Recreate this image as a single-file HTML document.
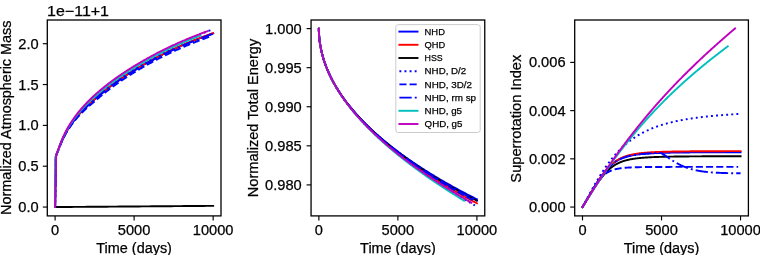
<!DOCTYPE html>
<html><head><meta charset="utf-8"><style>html,body{margin:0;padding:0;background:#fff;}svg{display:block;font-family:"Liberation Sans",sans-serif;} .txt{filter:grayscale(1);}</style></head><body>
<svg width="760" height="255" viewBox="0 0 760 255">
<rect width="760" height="255" fill="#ffffff"/>
<defs>
<clipPath id="c0"><rect x="47.30" y="20.00" width="173.70" height="195.90"/></clipPath>
<clipPath id="c1"><rect x="311.06" y="20.00" width="173.70" height="195.90"/></clipPath>
<clipPath id="c2"><rect x="574.70" y="20.00" width="173.70" height="195.90"/></clipPath>
</defs>
<g clip-path="url(#c0)">
<path d="M55.10,207.06 L55.81,156.44 L56.34,154.91 L56.86,153.59 L57.39,152.27 L57.92,150.93 L58.44,149.56 L58.97,148.18 L59.49,146.81 L60.02,145.47 L60.55,144.15 L61.07,142.87 L61.60,141.62 L62.13,140.41 L62.65,139.24 L63.18,138.11 L63.70,137.01 L64.23,135.94 L64.76,134.91 L65.28,133.90 L65.81,132.93 L66.34,131.98 L66.86,131.06 L67.39,130.16 L67.91,129.28 L68.44,128.43 L68.97,127.59 L69.49,126.77 L70.02,125.97 L70.55,125.19 L71.07,124.42 L71.60,123.67 L72.12,122.94 L72.65,122.21 L73.18,121.50 L73.70,120.80 L74.23,120.12 L74.76,119.44 L75.28,118.78 L75.81,118.13 L76.33,117.48 L76.86,116.85 L77.39,116.22 L77.91,115.61 L78.44,115.00 L78.96,114.40 L79.49,113.81 L80.02,113.23 L80.54,112.65 L81.07,112.09 L81.60,111.52 L82.12,110.97 L82.65,110.42 L83.17,109.88 L83.70,109.35 L84.23,108.82 L84.75,108.29 L85.28,107.77 L85.81,107.26 L86.33,106.76 L86.86,106.25 L87.38,105.76 L87.91,105.27 L88.44,104.78 L88.96,104.30 L89.49,103.82 L90.02,103.35 L90.54,102.88 L91.07,102.41 L91.59,101.95 L92.12,101.50 L92.65,101.05 L93.17,100.60 L93.70,100.15 L94.23,99.71 L94.75,99.26 L95.28,98.79 L95.80,98.31 L96.33,97.84 L96.86,97.37 L97.38,96.91 L97.91,96.45 L98.43,95.99 L98.96,95.54 L99.49,95.08 L100.01,94.64 L100.54,94.19 L101.07,93.75 L101.59,93.31 L102.12,92.87 L102.64,92.44 L103.17,92.01 L103.70,91.58 L104.22,91.16 L104.75,90.73 L105.28,90.31 L105.80,89.90 L106.33,89.48 L106.85,89.07 L107.38,88.66 L107.91,88.25 L108.43,87.85 L108.96,87.44 L109.49,87.04 L110.01,86.64 L110.54,86.25 L111.06,85.85 L111.59,85.46 L112.12,85.07 L112.64,84.68 L113.17,84.30 L113.70,83.91 L114.22,83.53 L114.75,83.15 L115.27,82.77 L115.80,82.40 L116.33,82.02 L116.85,81.65 L117.38,81.28 L117.90,80.91 L118.43,80.55 L118.96,80.18 L119.48,79.82 L120.01,79.46 L120.54,79.10 L121.06,78.74 L121.59,78.38 L122.11,78.03 L122.64,77.67 L123.17,77.32 L123.69,76.97 L124.22,76.62 L124.75,76.28 L125.27,75.93 L125.80,75.59 L126.32,75.24 L126.85,74.90 L127.38,74.56 L127.90,74.23 L128.43,73.89 L128.96,73.55 L129.48,73.22 L130.01,72.89 L130.53,72.56 L131.06,72.23 L131.59,71.90 L132.11,71.57 L132.64,71.24 L133.17,70.92 L133.69,70.59 L134.22,70.27 L134.74,69.95 L135.27,69.63 L135.80,69.31 L136.32,69.00 L136.85,68.68 L137.37,68.36 L137.90,68.05 L138.43,67.74 L138.95,67.43 L139.48,67.12 L140.01,66.81 L140.53,66.50 L141.06,66.19 L141.58,65.89 L142.11,65.58 L142.64,65.28 L143.16,64.97 L143.69,64.67 L144.22,64.37 L144.74,64.07 L145.27,63.77 L145.79,63.48 L146.32,63.18 L146.85,62.88 L147.37,62.59 L147.90,62.29 L148.43,62.00 L148.95,61.71 L149.48,61.42 L150.00,61.13 L150.53,60.84 L151.06,60.55 L151.58,60.27 L152.11,59.98 L152.64,59.70 L153.16,59.41 L153.69,59.13 L154.21,58.85 L154.74,58.57 L155.27,58.29 L155.79,58.02 L156.32,57.74 L156.84,57.47 L157.37,57.19 L157.90,56.92 L158.42,56.65 L158.95,56.38 L159.48,56.11 L160.00,55.84 L160.53,55.57 L161.05,55.30 L161.58,55.04 L162.11,54.77 L162.63,54.51 L163.16,54.25 L163.69,53.99 L164.21,53.73 L164.74,53.47 L165.26,53.21 L165.79,52.95 L166.32,52.70 L166.84,52.44 L167.37,52.19 L167.90,51.93 L168.42,51.68 L168.95,51.43 L169.47,51.18 L170.00,50.93 L170.53,50.68 L171.05,50.43 L171.58,50.19 L172.11,49.94 L172.63,49.70 L173.16,49.45 L173.68,49.21 L174.21,48.97 L174.74,48.73 L175.26,48.49 L175.79,48.25 L176.31,48.01 L176.84,47.77 L177.37,47.54 L177.89,47.30 L178.42,47.07 L178.95,46.83 L179.47,46.60 L180.00,46.37 L180.52,46.13 L181.05,45.90 L181.58,45.68 L182.10,45.45 L182.63,45.22 L183.16,44.99 L183.68,44.77 L184.21,44.54 L184.73,44.32 L185.26,44.09 L185.79,43.87 L186.31,43.65 L186.84,43.43 L187.37,43.21 L187.89,42.99 L188.42,42.77 L188.94,42.55 L189.47,42.33 L190.00,42.12 L190.52,41.90 L191.05,41.69 L191.58,41.47 L192.10,41.26 L192.63,41.05 L193.15,40.84 L193.68,40.63 L194.21,40.42 L194.73,40.21 L195.26,40.00 L195.78,39.79 L196.31,39.58 L196.84,39.38 L197.36,39.17 L197.89,38.97 L198.42,38.76 L198.94,38.56 L199.47,38.36 L199.99,38.16 L200.52,37.96 L201.05,37.76 L201.57,37.56 L202.10,37.36 L202.63,37.16 L203.15,36.96 L203.68,36.77 L204.20,36.57 L204.73,36.38 L205.26,36.18 L205.78,35.99 L206.31,35.80 L206.84,35.60 L207.36,35.41 L207.89,35.22 L208.41,35.03 L208.94,34.84 L209.47,34.65 L209.99,34.47 L210.52,34.28 L211.05,34.09 L211.57,33.91 L212.10,33.72 L212.62,33.54 L213.15,33.35" fill="none" stroke="#0000ff" stroke-width="1.92" stroke-linecap="square" stroke-linejoin="round"/>
<path d="M55.10,207.06 L55.89,156.16 L56.42,154.69 L56.94,153.38 L57.47,152.06 L57.99,150.70 L58.52,149.33 L59.05,147.95 L59.57,146.58 L60.10,145.24 L60.62,143.92 L61.15,142.64 L61.68,141.40 L62.20,140.19 L62.73,139.02 L63.25,137.89 L63.78,136.79 L64.31,135.73 L64.83,134.70 L65.36,133.70 L65.88,132.72 L66.41,131.78 L66.94,130.85 L67.46,129.96 L67.99,129.08 L68.51,128.23 L69.04,127.39 L69.57,126.57 L70.09,125.77 L70.62,124.99 L71.14,124.22 L71.67,123.47 L72.19,122.74 L72.72,122.01 L73.25,121.30 L73.77,120.60 L74.30,119.91 L74.82,119.24 L75.35,118.57 L75.88,117.92 L76.40,117.28 L76.93,116.64 L77.45,116.02 L77.98,115.40 L78.51,114.79 L79.03,114.19 L79.56,113.60 L80.08,113.02 L80.61,112.44 L81.14,111.87 L81.66,111.31 L82.19,110.75 L82.71,110.20 L83.24,109.66 L83.77,109.12 L84.29,108.59 L84.82,108.07 L85.34,107.55 L85.87,107.04 L86.40,106.53 L86.92,106.03 L87.45,105.53 L87.97,105.04 L88.50,104.55 L89.03,104.06 L89.55,103.58 L90.08,103.11 L90.60,102.64 L91.13,102.17 L91.66,101.71 L92.18,101.26 L92.71,100.80 L93.23,100.35 L93.76,99.91 L94.28,99.46 L94.81,99.01 L95.34,98.53 L95.86,98.06 L96.39,97.59 L96.91,97.12 L97.44,96.66 L97.97,96.20 L98.49,95.74 L99.02,95.29 L99.54,94.84 L100.07,94.39 L100.60,93.94 L101.12,93.50 L101.65,93.06 L102.17,92.63 L102.70,92.20 L103.23,91.77 L103.75,91.34 L104.28,90.91 L104.80,90.49 L105.33,90.07 L105.86,89.65 L106.38,89.24 L106.91,88.83 L107.43,88.42 L107.96,88.01 L108.49,87.61 L109.01,87.20 L109.54,86.80 L110.06,86.40 L110.59,86.01 L111.12,85.62 L111.64,85.22 L112.17,84.83 L112.69,84.45 L113.22,84.06 L113.75,83.68 L114.27,83.30 L114.80,82.92 L115.32,82.54 L115.85,82.16 L116.37,81.79 L116.90,81.42 L117.43,81.05 L117.95,80.68 L118.48,80.31 L119.00,79.95 L119.53,79.59 L120.06,79.22 L120.58,78.87 L121.11,78.51 L121.63,78.15 L122.16,77.80 L122.69,77.44 L123.21,77.09 L123.74,76.74 L124.26,76.39 L124.79,76.05 L125.32,75.70 L125.84,75.36 L126.37,75.02 L126.89,74.68 L127.42,74.34 L127.95,74.00 L128.47,73.66 L129.00,73.33 L129.52,72.99 L130.05,72.66 L130.58,72.33 L131.10,72.00 L131.63,71.67 L132.15,71.34 L132.68,71.02 L133.21,70.69 L133.73,70.37 L134.26,70.05 L134.78,69.73 L135.31,69.41 L135.84,69.09 L136.36,68.77 L136.89,68.46 L137.41,68.14 L137.94,67.83 L138.46,67.52 L138.99,67.20 L139.52,66.89 L140.04,66.59 L140.57,66.28 L141.09,65.97 L141.62,65.66 L142.15,65.36 L142.67,65.06 L143.20,64.75 L143.72,64.45 L144.25,64.15 L144.78,63.85 L145.30,63.55 L145.83,63.26 L146.35,62.96 L146.88,62.66 L147.41,62.37 L147.93,62.08 L148.46,61.78 L148.98,61.49 L149.51,61.20 L150.04,60.91 L150.56,60.62 L151.09,60.34 L151.61,60.05 L152.14,59.76 L152.67,59.48 L153.19,59.20 L153.72,58.92 L154.24,58.64 L154.77,58.36 L155.30,58.08 L155.82,57.80 L156.35,57.53 L156.87,57.25 L157.40,56.98 L157.93,56.70 L158.45,56.43 L158.98,56.16 L159.50,55.89 L160.03,55.62 L160.55,55.36 L161.08,55.09 L161.61,54.83 L162.13,54.56 L162.66,54.30 L163.18,54.04 L163.71,53.77 L164.24,53.51 L164.76,53.26 L165.29,53.00 L165.81,52.74 L166.34,52.48 L166.87,52.23 L167.39,51.98 L167.92,51.72 L168.44,51.47 L168.97,51.22 L169.50,50.97 L170.02,50.72 L170.55,50.47 L171.07,50.22 L171.60,49.98 L172.13,49.73 L172.65,49.49 L173.18,49.24 L173.70,49.00 L174.23,48.76 L174.76,48.52 L175.28,48.28 L175.81,48.04 L176.33,47.80 L176.86,47.56 L177.39,47.33 L177.91,47.09 L178.44,46.86 L178.96,46.62 L179.49,46.39 L180.02,46.16 L180.54,45.93 L181.07,45.70 L181.59,45.47 L182.12,45.24 L182.64,45.01 L183.17,44.79 L183.70,44.56 L184.22,44.33 L184.75,44.11 L185.27,43.89 L185.80,43.66 L186.33,43.44 L186.85,43.22 L187.38,43.00 L187.90,42.78 L188.43,42.56 L188.96,42.35 L189.48,42.13 L190.01,41.91 L190.53,41.70 L191.06,41.48 L191.59,41.27 L192.11,41.06 L192.64,40.84 L193.16,40.63 L193.69,40.42 L194.22,40.21 L194.74,40.00 L195.27,39.79 L195.79,39.59 L196.32,39.38 L196.85,39.17 L197.37,38.97 L197.90,38.76 L198.42,38.56 L198.95,38.36 L199.48,38.16 L200.00,37.95 L200.53,37.75 L201.05,37.55 L201.58,37.35 L202.11,37.16 L202.63,36.96 L203.16,36.76 L203.68,36.57 L204.21,36.37 L204.73,36.17 L205.26,35.98 L205.79,35.79 L206.31,35.59 L206.84,35.40 L207.36,35.21 L207.89,35.02 L208.42,34.83 L208.94,34.64 L209.47,34.45 L209.99,34.27 L210.52,34.08 L211.05,33.89 L211.57,33.71 L212.10,33.52 L212.62,33.34 L213.15,33.15" fill="none" stroke="#ff0000" stroke-width="1.92" stroke-linecap="square" stroke-linejoin="round"/>
<path d="M55.10,207.06 L58.33,207.04 L61.55,207.01 L64.78,206.99 L68.00,206.96 L71.23,206.94 L74.45,206.91 L77.68,206.89 L80.90,206.86 L84.13,206.84 L87.36,206.82 L90.58,206.79 L93.81,206.77 L97.03,206.74 L100.26,206.72 L103.48,206.69 L106.71,206.67 L109.93,206.64 L113.16,206.62 L116.38,206.59 L119.61,206.57 L122.84,206.55 L126.06,206.52 L129.29,206.50 L132.51,206.47 L135.74,206.45 L138.96,206.42 L142.19,206.40 L145.41,206.37 L148.64,206.35 L151.87,206.33 L155.09,206.30 L158.32,206.28 L161.54,206.25 L164.77,206.23 L167.99,206.20 L171.22,206.18 L174.44,206.15 L177.67,206.13 L180.89,206.10 L184.12,206.08 L187.35,206.06 L190.57,206.03 L193.80,206.01 L197.02,205.98 L200.25,205.96 L203.47,205.93 L206.70,205.91 L209.92,205.88 L213.15,205.86" fill="none" stroke="#000000" stroke-width="1.92" stroke-linecap="square" stroke-linejoin="round"/>
<path d="M55.10,207.06 L55.73,156.69 L56.25,155.06 L56.77,153.72 L57.29,152.41 L57.81,151.06 L58.33,149.69 L58.85,148.31 L59.37,146.94 L59.89,145.58 L60.41,144.25 L60.93,142.96 L61.45,141.70 L61.97,140.48 L62.49,139.29 L63.01,138.14 L63.53,137.03 L64.05,135.95 L64.57,134.90 L65.09,133.88 L65.60,132.89 L66.12,131.93 L66.64,130.99 L67.16,130.07 L67.68,129.18 L68.20,128.31 L68.72,127.46 L69.24,126.63 L69.76,125.82 L70.28,125.02 L70.80,124.24 L71.32,123.48 L71.84,122.73 L72.36,121.99 L72.88,121.27 L73.40,120.56 L73.92,119.86 L74.44,119.17 L74.96,118.49 L75.48,117.83 L76.00,117.17 L76.52,116.53 L77.04,115.89 L77.56,115.26 L78.08,114.64 L78.60,114.03 L79.11,113.43 L79.63,112.83 L80.15,112.25 L80.67,111.67 L81.19,111.09 L81.71,110.53 L82.23,109.97 L82.75,109.41 L83.27,108.87 L83.79,108.33 L84.31,107.79 L84.83,107.26 L85.35,106.74 L85.87,106.22 L86.39,105.71 L86.91,105.20 L87.43,104.69 L87.95,104.20 L88.47,103.70 L88.99,103.21 L89.51,102.73 L90.03,102.25 L90.55,101.77 L91.07,101.30 L91.59,100.84 L92.10,100.37 L92.62,99.91 L93.14,99.46 L93.66,99.01 L94.18,98.56 L94.70,98.11 L95.22,97.64 L95.74,97.17 L96.26,96.70 L96.78,96.24 L97.30,95.78 L97.82,95.32 L98.34,94.87 L98.86,94.42 L99.38,93.98 L99.90,93.53 L100.42,93.09 L100.94,92.66 L101.46,92.22 L101.98,91.79 L102.50,91.36 L103.02,90.94 L103.54,90.51 L104.06,90.09 L104.58,89.67 L105.10,89.26 L105.61,88.85 L106.13,88.43 L106.65,88.03 L107.17,87.62 L107.69,87.22 L108.21,86.82 L108.73,86.42 L109.25,86.02 L109.77,85.63 L110.29,85.23 L110.81,84.84 L111.33,84.45 L111.85,84.07 L112.37,83.68 L112.89,83.30 L113.41,82.92 L113.93,82.54 L114.45,82.17 L114.97,81.79 L115.49,81.42 L116.01,81.05 L116.53,80.68 L117.05,80.32 L117.57,79.95 L118.09,79.59 L118.60,79.23 L119.12,78.87 L119.64,78.51 L120.16,78.15 L120.68,77.80 L121.20,77.44 L121.72,77.09 L122.24,76.74 L122.76,76.39 L123.28,76.05 L123.80,75.70 L124.32,75.36 L124.84,75.01 L125.36,74.67 L125.88,74.33 L126.40,74.00 L126.92,73.66 L127.44,73.32 L127.96,72.99 L128.48,72.66 L129.00,72.33 L129.52,72.00 L130.04,71.67 L130.56,71.34 L131.08,71.02 L131.60,70.69 L132.11,70.37 L132.63,70.05 L133.15,69.73 L133.67,69.41 L134.19,69.09 L134.71,68.77 L135.23,68.45 L135.75,68.14 L136.27,67.83 L136.79,67.51 L137.31,67.20 L137.83,66.89 L138.35,66.58 L138.87,66.28 L139.39,65.97 L139.91,65.66 L140.43,65.36 L140.95,65.06 L141.47,64.75 L141.99,64.45 L142.51,64.15 L143.03,63.85 L143.55,63.55 L144.07,63.26 L144.59,62.96 L145.10,62.67 L145.62,62.37 L146.14,62.08 L146.66,61.79 L147.18,61.49 L147.70,61.20 L148.22,60.91 L148.74,60.63 L149.26,60.34 L149.78,60.05 L150.30,59.77 L150.82,59.48 L151.34,59.20 L151.86,58.92 L152.38,58.63 L152.90,58.35 L153.42,58.08 L153.94,57.80 L154.46,57.52 L154.98,57.25 L155.50,56.97 L156.02,56.70 L156.54,56.43 L157.06,56.16 L157.58,55.88 L158.10,55.60 L158.61,55.30 L159.13,55.01 L159.65,54.71 L160.17,54.42 L160.69,54.13 L161.21,53.83 L161.73,53.54 L162.25,53.25 L162.77,52.96 L163.29,52.68 L163.81,52.39 L164.33,52.10 L164.85,51.82 L165.37,51.53 L165.89,51.25 L166.41,50.97 L166.93,50.69 L167.45,50.41 L167.97,50.13 L168.49,49.85 L169.01,49.57 L169.53,49.30 L170.05,49.02 L170.57,48.75 L171.09,48.47 L171.61,48.20 L172.12,47.93 L172.64,47.66 L173.16,47.39 L173.68,47.12 L174.20,46.85 L174.72,46.58 L175.24,46.32 L175.76,46.05 L176.28,45.79 L176.80,45.52 L177.32,45.26 L177.84,45.00 L178.36,44.74 L178.88,44.48 L179.40,44.22 L179.92,43.96 L180.44,43.70 L180.96,43.44 L181.48,43.19 L182.00,42.93 L182.52,42.68 L183.04,42.42 L183.56,42.17 L184.08,41.92 L184.60,41.67 L185.11,41.42 L185.63,41.17 L186.15,40.92 L186.67,40.67 L187.19,40.42 L187.71,40.18 L188.23,39.93 L188.75,39.69 L189.27,39.44 L189.79,39.20 L190.31,38.96 L190.83,38.72 L191.35,38.48 L191.87,38.24 L192.39,38.00 L192.91,37.76 L193.43,37.52 L193.95,37.28 L194.47,37.05 L194.99,36.81 L195.51,36.58 L196.03,36.34 L196.55,36.11 L197.07,35.88 L197.59,35.65 L198.11,35.42 L198.62,35.19 L199.14,34.96 L199.66,34.73 L200.18,34.50 L200.70,34.27 L201.22,34.05 L201.74,33.82 L202.26,33.59 L202.78,33.37 L203.30,33.15 L203.82,32.92 L204.34,32.70 L204.86,32.48 L205.38,32.26 L205.90,32.04 L206.42,31.82 L206.94,31.60 L207.46,31.38 L207.98,31.16 L208.50,30.95 L209.02,30.73 L209.54,30.52 L210.06,30.30 L210.58,30.09 L211.10,29.87" fill="none" stroke="#0000ff" stroke-width="1.92" stroke-dasharray="1.92,3.17" stroke-linecap="butt" stroke-linejoin="round"/>
<path d="M55.10,207.06 L55.89,156.26 L56.41,154.86 L56.93,153.61 L57.44,152.36 L57.96,151.07 L58.48,149.75 L59.00,148.43 L59.52,147.12 L60.03,145.83 L60.55,144.57 L61.07,143.34 L61.59,142.14 L62.11,140.98 L62.62,139.86 L63.14,138.77 L63.66,137.71 L64.18,136.69 L64.70,135.70 L65.21,134.74 L65.73,133.80 L66.25,132.89 L66.77,132.01 L67.29,131.15 L67.80,130.31 L68.32,129.49 L68.84,128.69 L69.36,127.91 L69.88,127.14 L70.39,126.40 L70.91,125.66 L71.43,124.95 L71.95,124.24 L72.47,123.55 L72.99,122.87 L73.50,122.21 L74.02,121.55 L74.54,120.91 L75.06,120.28 L75.58,119.65 L76.09,119.04 L76.61,118.44 L77.13,117.84 L77.65,117.26 L78.17,116.68 L78.68,116.11 L79.20,115.55 L79.72,115.00 L80.24,114.45 L80.76,113.91 L81.27,113.38 L81.79,112.85 L82.31,112.33 L82.83,111.82 L83.35,111.31 L83.86,110.81 L84.38,110.31 L84.90,109.82 L85.42,109.34 L85.94,108.86 L86.45,108.38 L86.97,107.91 L87.49,107.45 L88.01,106.99 L88.53,106.53 L89.04,106.08 L89.56,105.64 L90.08,105.19 L90.60,104.76 L91.12,104.32 L91.63,103.89 L92.15,103.46 L92.67,103.04 L93.19,102.62 L93.71,102.21 L94.22,101.80 L94.74,101.37 L95.26,100.90 L95.78,100.43 L96.30,99.97 L96.81,99.51 L97.33,99.05 L97.85,98.60 L98.37,98.15 L98.89,97.70 L99.40,97.26 L99.92,96.81 L100.44,96.38 L100.96,95.94 L101.48,95.51 L101.99,95.08 L102.51,94.65 L103.03,94.22 L103.55,93.80 L104.07,93.38 L104.58,92.97 L105.10,92.55 L105.62,92.14 L106.14,91.73 L106.66,91.32 L107.17,90.92 L107.69,90.52 L108.21,90.12 L108.73,89.72 L109.25,89.32 L109.76,88.93 L110.28,88.54 L110.80,88.15 L111.32,87.76 L111.84,87.38 L112.35,87.00 L112.87,86.61 L113.39,86.24 L113.91,85.86 L114.43,85.48 L114.94,85.11 L115.46,84.74 L115.98,84.37 L116.50,84.00 L117.02,83.64 L117.54,83.27 L118.05,82.91 L118.57,82.55 L119.09,82.19 L119.61,81.83 L120.13,81.48 L120.64,81.12 L121.16,80.77 L121.68,80.42 L122.20,80.07 L122.72,79.72 L123.23,79.38 L123.75,79.03 L124.27,78.69 L124.79,78.35 L125.31,78.01 L125.82,77.67 L126.34,77.33 L126.86,77.00 L127.38,76.66 L127.90,76.33 L128.41,76.00 L128.93,75.67 L129.45,75.34 L129.97,75.01 L130.49,74.69 L131.00,74.36 L131.52,74.04 L132.04,73.71 L132.56,73.39 L133.08,73.07 L133.59,72.75 L134.11,72.44 L134.63,72.12 L135.15,71.81 L135.67,71.49 L136.18,71.18 L136.70,70.87 L137.22,70.56 L137.74,70.25 L138.26,69.94 L138.77,69.63 L139.29,69.33 L139.81,69.02 L140.33,68.72 L140.85,68.42 L141.36,68.11 L141.88,67.81 L142.40,67.51 L142.92,67.21 L143.44,66.92 L143.95,66.62 L144.47,66.33 L144.99,66.03 L145.51,65.74 L146.03,65.44 L146.54,65.15 L147.06,64.86 L147.58,64.57 L148.10,64.28 L148.62,64.00 L149.13,63.71 L149.65,63.42 L150.17,63.14 L150.69,62.85 L151.21,62.57 L151.72,62.29 L152.24,62.01 L152.76,61.73 L153.28,61.45 L153.80,61.17 L154.31,60.90 L154.83,60.62 L155.35,60.35 L155.87,60.08 L156.39,59.80 L156.90,59.53 L157.42,59.26 L157.94,59.00 L158.46,58.73 L158.98,58.46 L159.49,58.20 L160.01,57.93 L160.53,57.67 L161.05,57.41 L161.57,57.15 L162.09,56.88 L162.60,56.63 L163.12,56.37 L163.64,56.11 L164.16,55.85 L164.68,55.60 L165.19,55.34 L165.71,55.09 L166.23,54.84 L166.75,54.59 L167.27,54.34 L167.78,54.09 L168.30,53.84 L168.82,53.59 L169.34,53.34 L169.86,53.10 L170.37,52.85 L170.89,52.61 L171.41,52.37 L171.93,52.12 L172.45,51.88 L172.96,51.64 L173.48,51.40 L174.00,51.16 L174.52,50.93 L175.04,50.69 L175.55,50.45 L176.07,50.22 L176.59,49.99 L177.11,49.75 L177.63,49.52 L178.14,49.29 L178.66,49.06 L179.18,48.83 L179.70,48.60 L180.22,48.37 L180.73,48.14 L181.25,47.92 L181.77,47.69 L182.29,47.47 L182.81,47.24 L183.32,47.02 L183.84,46.80 L184.36,46.58 L184.88,46.35 L185.40,46.13 L185.91,45.92 L186.43,45.70 L186.95,45.48 L187.47,45.26 L187.99,45.05 L188.50,44.83 L189.02,44.62 L189.54,44.40 L190.06,44.19 L190.58,43.98 L191.09,43.77 L191.61,43.56 L192.13,43.35 L192.65,43.14 L193.17,42.93 L193.68,42.72 L194.20,42.52 L194.72,42.31 L195.24,42.11 L195.76,41.90 L196.27,41.70 L196.79,41.50 L197.31,41.29 L197.83,41.09 L198.35,40.89 L198.86,40.69 L199.38,40.49 L199.90,40.29 L200.42,40.10 L200.94,39.90 L201.45,39.70 L201.97,39.51 L202.49,39.31 L203.01,39.12 L203.53,38.92 L204.04,38.73 L204.56,38.54 L205.08,38.35 L205.60,38.16 L206.12,37.97 L206.64,37.78 L207.15,37.59 L207.67,37.40 L208.19,37.21 L208.71,37.03 L209.23,36.84 L209.74,36.65 L210.26,36.47 L210.78,36.29" fill="none" stroke="#0000ff" stroke-width="1.92" stroke-dasharray="7.1,3.07" stroke-linecap="butt" stroke-linejoin="round"/>
<path d="M55.10,207.06 L55.81,156.46 L56.34,154.93 L56.86,153.62 L57.39,152.32 L57.92,150.98 L58.44,149.61 L58.97,148.24 L59.49,146.88 L60.02,145.54 L60.55,144.23 L61.07,142.96 L61.60,141.72 L62.13,140.51 L62.65,139.35 L63.18,138.22 L63.70,137.12 L64.23,136.06 L64.76,135.04 L65.28,134.04 L65.81,133.07 L66.34,132.13 L66.86,131.21 L67.39,130.32 L67.91,129.44 L68.44,128.59 L68.97,127.76 L69.49,126.95 L70.02,126.16 L70.55,125.38 L71.07,124.62 L71.60,123.87 L72.12,123.14 L72.65,122.42 L73.18,121.72 L73.70,121.02 L74.23,120.34 L74.76,119.67 L75.28,119.01 L75.81,118.36 L76.33,117.73 L76.86,117.10 L77.39,116.48 L77.91,115.87 L78.44,115.26 L78.96,114.67 L79.49,114.08 L80.02,113.51 L80.54,112.93 L81.07,112.37 L81.60,111.81 L82.12,111.26 L82.65,110.72 L83.17,110.18 L83.70,109.65 L84.23,109.13 L84.75,108.61 L85.28,108.10 L85.81,107.59 L86.33,107.09 L86.86,106.59 L87.38,106.10 L87.91,105.61 L88.44,105.13 L88.96,104.65 L89.49,104.18 L90.02,103.71 L90.54,103.24 L91.07,102.78 L91.59,102.33 L92.12,101.88 L92.65,101.43 L93.17,100.99 L93.70,100.55 L94.23,100.11 L94.75,99.66 L95.28,99.19 L95.80,98.71 L96.33,98.24 L96.86,97.77 L97.38,97.31 L97.91,96.85 L98.43,96.39 L98.96,95.94 L99.49,95.48 L100.01,95.04 L100.54,94.59 L101.07,94.15 L101.59,93.71 L102.12,93.27 L102.64,92.84 L103.17,92.41 L103.70,91.98 L104.22,91.56 L104.75,91.13 L105.28,90.71 L105.80,90.30 L106.33,89.88 L106.85,89.47 L107.38,89.06 L107.91,88.65 L108.43,88.25 L108.96,87.84 L109.49,87.44 L110.01,87.04 L110.54,86.65 L111.06,86.25 L111.59,85.86 L112.12,85.47 L112.64,85.08 L113.17,84.70 L113.70,84.31 L114.22,83.93 L114.75,83.55 L115.27,83.17 L115.80,82.80 L116.33,82.42 L116.85,82.05 L117.38,81.68 L117.90,81.31 L118.43,80.95 L118.96,80.58 L119.48,80.22 L120.01,79.86 L120.54,79.50 L121.06,79.14 L121.59,78.78 L122.11,78.43 L122.64,78.07 L123.17,77.72 L123.69,77.37 L124.22,77.02 L124.75,76.68 L125.27,76.33 L125.80,75.99 L126.32,75.64 L126.85,75.30 L127.38,74.96 L127.90,74.63 L128.43,74.29 L128.96,73.95 L129.48,73.62 L130.01,73.29 L130.53,72.96 L131.06,72.63 L131.59,72.30 L132.11,71.97 L132.64,71.64 L133.17,71.32 L133.69,70.99 L134.22,70.67 L134.74,70.35 L135.27,70.03 L135.80,69.71 L136.32,69.40 L136.85,69.08 L137.37,68.76 L137.90,68.45 L138.43,68.14 L138.95,67.83 L139.48,67.52 L140.01,67.21 L140.53,66.90 L141.06,66.59 L141.58,66.29 L142.11,65.98 L142.64,65.68 L143.16,65.37 L143.69,65.07 L144.22,64.77 L144.74,64.47 L145.27,64.17 L145.79,63.88 L146.32,63.58 L146.85,63.28 L147.37,62.99 L147.90,62.69 L148.43,62.40 L148.95,62.11 L149.48,61.82 L150.00,61.53 L150.53,61.24 L151.06,60.95 L151.58,60.67 L152.11,60.38 L152.64,60.10 L153.16,59.81 L153.69,59.53 L154.21,59.25 L154.74,58.97 L155.27,58.69 L155.79,58.42 L156.32,58.14 L156.84,57.87 L157.37,57.59 L157.90,57.32 L158.42,57.05 L158.95,56.78 L159.48,56.51 L160.00,56.24 L160.53,55.97 L161.05,55.70 L161.58,55.44 L162.11,55.17 L162.63,54.91 L163.16,54.65 L163.69,54.39 L164.21,54.13 L164.74,53.87 L165.26,53.61 L165.79,53.35 L166.32,53.10 L166.84,52.84 L167.37,52.59 L167.90,52.33 L168.42,52.08 L168.95,51.83 L169.47,51.58 L170.00,51.33 L170.53,51.08 L171.05,50.83 L171.58,50.59 L172.11,50.34 L172.63,50.10 L173.16,49.85 L173.68,49.61 L174.21,49.37 L174.74,49.13 L175.26,48.89 L175.79,48.65 L176.31,48.41 L176.84,48.17 L177.37,47.94 L177.89,47.70 L178.42,47.47 L178.95,47.23 L179.47,47.00 L180.00,46.77 L180.52,46.53 L181.05,46.30 L181.58,46.08 L182.10,45.85 L182.63,45.62 L183.16,45.39 L183.68,45.17 L184.21,44.94 L184.73,44.72 L185.26,44.49 L185.79,44.27 L186.31,44.05 L186.84,43.83 L187.37,43.61 L187.89,43.39 L188.42,43.17 L188.94,42.95 L189.47,42.73 L190.00,42.52 L190.52,42.30 L191.05,42.09 L191.58,41.87 L192.10,41.66 L192.63,41.45 L193.15,41.24 L193.68,41.03 L194.21,40.82 L194.73,40.61 L195.26,40.40 L195.78,40.19 L196.31,39.98 L196.84,39.78 L197.36,39.57 L197.89,39.37 L198.42,39.16 L198.94,38.96 L199.47,38.76 L199.99,38.56 L200.52,38.36 L201.05,38.16 L201.57,37.96 L202.10,37.76 L202.63,37.56 L203.15,37.36 L203.68,37.17 L204.20,36.97 L204.73,36.78 L205.26,36.58 L205.78,36.39 L206.31,36.20 L206.84,36.00 L207.36,35.81 L207.89,35.62 L208.41,35.43 L208.94,35.24 L209.47,35.05 L209.99,34.87 L210.52,34.68 L211.05,34.49 L211.57,34.31 L212.10,34.12 L212.62,33.94 L213.15,33.75" fill="none" stroke="#0000ff" stroke-width="1.92" stroke-dasharray="12.29,3.07,1.92,3.07" stroke-linecap="butt" stroke-linejoin="round"/>
<path d="M55.10,207.06 L55.29,159.56 L55.77,156.48 L56.26,154.96 L56.75,153.69 L57.23,152.44 L57.72,151.16 L58.20,149.86 L58.69,148.55 L59.17,147.25 L59.66,145.96 L60.14,144.68 L60.63,143.44 L61.11,142.22 L61.60,141.04 L62.08,139.89 L62.57,138.77 L63.05,137.68 L63.54,136.63 L64.02,135.60 L64.51,134.60 L64.99,133.63 L65.48,132.68 L65.96,131.76 L66.45,130.86 L66.93,129.98 L67.42,129.12 L67.90,128.28 L68.39,127.46 L68.87,126.66 L69.36,125.87 L69.84,125.10 L70.33,124.34 L70.81,123.60 L71.30,122.87 L71.78,122.16 L72.27,121.45 L72.75,120.76 L73.24,120.08 L73.73,119.40 L74.21,118.74 L74.70,118.09 L75.18,117.45 L75.67,116.82 L76.15,116.19 L76.64,115.58 L77.12,114.97 L77.61,114.37 L78.09,113.78 L78.58,113.19 L79.06,112.62 L79.55,112.05 L80.03,111.48 L80.52,110.93 L81.00,110.37 L81.49,109.83 L81.97,109.29 L82.46,108.76 L82.94,108.23 L83.43,107.71 L83.91,107.19 L84.40,106.68 L84.88,106.17 L85.37,105.67 L85.85,105.17 L86.34,104.68 L86.82,104.19 L87.31,103.71 L87.79,103.23 L88.28,102.75 L88.76,102.28 L89.25,101.81 L89.73,101.35 L90.22,100.89 L90.71,100.43 L91.19,99.98 L91.68,99.53 L92.16,99.09 L92.65,98.65 L93.13,98.21 L93.62,97.77 L94.10,97.34 L94.59,96.91 L95.07,96.47 L95.56,96.03 L96.04,95.60 L96.53,95.16 L97.01,94.73 L97.50,94.31 L97.98,93.88 L98.47,93.46 L98.95,93.04 L99.44,92.63 L99.92,92.21 L100.41,91.80 L100.89,91.39 L101.38,90.99 L101.86,90.59 L102.35,90.18 L102.83,89.79 L103.32,89.39 L103.80,89.00 L104.29,88.60 L104.77,88.21 L105.26,87.83 L105.74,87.44 L106.23,87.06 L106.72,86.68 L107.20,86.30 L107.69,85.92 L108.17,85.55 L108.66,85.18 L109.14,84.80 L109.63,84.44 L110.11,84.07 L110.60,83.70 L111.08,83.34 L111.57,82.98 L112.05,82.62 L112.54,82.26 L113.02,81.91 L113.51,81.55 L113.99,81.20 L114.48,80.85 L114.96,80.50 L115.45,80.15 L115.93,79.80 L116.42,79.46 L116.90,79.12 L117.39,78.78 L117.87,78.44 L118.36,78.10 L118.84,77.76 L119.33,77.43 L119.81,77.09 L120.30,76.76 L120.78,76.43 L121.27,76.10 L121.75,75.77 L122.24,75.44 L122.72,75.12 L123.21,74.79 L123.70,74.47 L124.18,74.15 L124.67,73.83 L125.15,73.51 L125.64,73.19 L126.12,72.88 L126.61,72.56 L127.09,72.25 L127.58,71.94 L128.06,71.62 L128.55,71.31 L129.03,71.00 L129.52,70.70 L130.00,70.39 L130.49,70.08 L130.97,69.78 L131.46,69.48 L131.94,69.17 L132.43,68.87 L132.91,68.57 L133.40,68.28 L133.88,67.98 L134.37,67.68 L134.85,67.38 L135.34,67.09 L135.82,66.80 L136.31,66.50 L136.79,66.21 L137.28,65.92 L137.76,65.63 L138.25,65.34 L138.73,65.06 L139.22,64.77 L139.70,64.48 L140.19,64.20 L140.68,63.92 L141.16,63.63 L141.65,63.35 L142.13,63.07 L142.62,62.79 L143.10,62.51 L143.59,62.23 L144.07,61.95 L144.56,61.68 L145.04,61.40 L145.53,61.13 L146.01,60.85 L146.50,60.58 L146.98,60.31 L147.47,60.04 L147.95,59.77 L148.44,59.50 L148.92,59.23 L149.41,58.96 L149.89,58.69 L150.38,58.42 L150.86,58.16 L151.35,57.89 L151.83,57.63 L152.32,57.37 L152.80,57.11 L153.29,56.85 L153.77,56.59 L154.26,56.33 L154.74,56.07 L155.23,55.81 L155.71,55.56 L156.20,55.30 L156.68,55.05 L157.17,54.80 L157.66,54.54 L158.14,54.29 L158.63,54.04 L159.11,53.79 L159.60,53.54 L160.08,53.30 L160.57,53.05 L161.05,52.81 L161.54,52.56 L162.02,52.32 L162.51,52.07 L162.99,51.83 L163.48,51.59 L163.96,51.35 L164.45,51.11 L164.93,50.87 L165.42,50.63 L165.90,50.40 L166.39,50.16 L166.87,49.93 L167.36,49.69 L167.84,49.46 L168.33,49.23 L168.81,48.99 L169.30,48.76 L169.78,48.53 L170.27,48.30 L170.75,48.07 L171.24,47.85 L171.72,47.62 L172.21,47.39 L172.69,47.17 L173.18,46.94 L173.66,46.72 L174.15,46.50 L174.64,46.27 L175.12,46.05 L175.61,45.83 L176.09,45.61 L176.58,45.39 L177.06,45.17 L177.55,44.96 L178.03,44.74 L178.52,44.52 L179.00,44.31 L179.49,44.09 L179.97,43.88 L180.46,43.66 L180.94,43.45 L181.43,43.24 L181.91,43.03 L182.40,42.82 L182.88,42.61 L183.37,42.40 L183.85,42.19 L184.34,41.98 L184.82,41.78 L185.31,41.57 L185.79,41.37 L186.28,41.16 L186.76,40.96 L187.25,40.75 L187.73,40.55 L188.22,40.35 L188.70,40.15 L189.19,39.95 L189.67,39.75 L190.16,39.55 L190.65,39.35 L191.13,39.15 L191.62,38.96 L192.10,38.76 L192.59,38.56 L193.07,38.37 L193.56,38.18 L194.04,37.98 L194.53,37.79 L195.01,37.60 L195.50,37.40 L195.98,37.21 L196.47,37.02 L196.95,36.83 L197.44,36.64 L197.92,36.46 L198.41,36.27 L198.89,36.08 L199.38,35.89 L199.86,35.71 L200.35,35.52" fill="none" stroke="#00bfbf" stroke-width="1.92" stroke-linecap="square" stroke-linejoin="round"/>
<path d="M55.10,207.06 L56.17,155.10 L56.68,153.72 L57.19,152.38 L57.69,151.02 L58.20,149.64 L58.71,148.25 L59.21,146.85 L59.72,145.48 L60.23,144.13 L60.73,142.81 L61.24,141.52 L61.75,140.27 L62.25,139.06 L62.76,137.88 L63.27,136.73 L63.77,135.62 L64.28,134.54 L64.79,133.49 L65.29,132.47 L65.80,131.47 L66.30,130.50 L66.81,129.56 L67.32,128.63 L67.82,127.73 L68.33,126.85 L68.84,125.99 L69.34,125.15 L69.85,124.32 L70.36,123.51 L70.86,122.71 L71.37,121.93 L71.88,121.16 L72.38,120.41 L72.89,119.67 L73.40,118.94 L73.90,118.22 L74.41,117.52 L74.92,116.82 L75.42,116.14 L75.93,115.46 L76.43,114.79 L76.94,114.14 L77.45,113.49 L77.95,112.85 L78.46,112.22 L78.97,111.59 L79.47,110.98 L79.98,110.37 L80.49,109.77 L80.99,109.17 L81.50,108.58 L82.01,108.00 L82.51,107.43 L83.02,106.86 L83.53,106.30 L84.03,105.74 L84.54,105.19 L85.05,104.64 L85.55,104.10 L86.06,103.56 L86.56,103.03 L87.07,102.51 L87.58,101.99 L88.08,101.47 L88.59,100.96 L89.10,100.45 L89.60,99.95 L90.11,99.45 L90.62,98.95 L91.12,98.46 L91.63,97.98 L92.14,97.50 L92.64,97.02 L93.15,96.54 L93.66,96.07 L94.16,95.60 L94.67,95.14 L95.18,94.68 L95.68,94.22 L96.19,93.77 L96.69,93.32 L97.20,92.87 L97.71,92.42 L98.21,91.98 L98.72,91.54 L99.23,91.11 L99.73,90.67 L100.24,90.24 L100.75,89.82 L101.25,89.39 L101.76,88.97 L102.27,88.55 L102.77,88.14 L103.28,87.72 L103.79,87.31 L104.29,86.90 L104.80,86.49 L105.31,86.09 L105.81,85.69 L106.32,85.29 L106.82,84.89 L107.33,84.50 L107.84,84.10 L108.34,83.71 L108.85,83.33 L109.36,82.94 L109.86,82.56 L110.37,82.17 L110.88,81.79 L111.38,81.42 L111.89,81.04 L112.40,80.66 L112.90,80.29 L113.41,79.92 L113.92,79.55 L114.42,79.19 L114.93,78.82 L115.44,78.46 L115.94,78.10 L116.45,77.74 L116.95,77.38 L117.46,77.02 L117.97,76.67 L118.47,76.32 L118.98,75.97 L119.49,75.62 L119.99,75.27 L120.50,74.92 L121.01,74.58 L121.51,74.23 L122.02,73.89 L122.53,73.55 L123.03,73.21 L123.54,72.87 L124.05,72.54 L124.55,72.20 L125.06,71.87 L125.57,71.54 L126.07,71.21 L126.58,70.88 L127.08,70.55 L127.59,70.23 L128.10,69.90 L128.60,69.58 L129.11,69.25 L129.62,68.93 L130.12,68.61 L130.63,68.29 L131.14,67.98 L131.64,67.66 L132.15,67.35 L132.66,67.03 L133.16,66.72 L133.67,66.41 L134.18,66.10 L134.68,65.79 L135.19,65.48 L135.70,65.17 L136.20,64.87 L136.71,64.56 L137.21,64.26 L137.72,63.96 L138.23,63.66 L138.73,63.36 L139.24,63.06 L139.75,62.76 L140.25,62.46 L140.76,62.17 L141.27,61.87 L141.77,61.58 L142.28,61.28 L142.79,60.99 L143.29,60.70 L143.80,60.41 L144.31,60.12 L144.81,59.83 L145.32,59.54 L145.83,59.26 L146.33,58.97 L146.84,58.69 L147.34,58.40 L147.85,58.12 L148.36,57.84 L148.86,57.56 L149.37,57.28 L149.88,57.00 L150.38,56.72 L150.89,56.44 L151.40,56.17 L151.90,55.89 L152.41,55.62 L152.92,55.35 L153.42,55.07 L153.93,54.80 L154.44,54.53 L154.94,54.26 L155.45,54.00 L155.96,53.73 L156.46,53.47 L156.97,53.20 L157.47,52.94 L157.98,52.67 L158.49,52.41 L158.99,52.15 L159.50,51.89 L160.01,51.63 L160.51,51.38 L161.02,51.12 L161.53,50.87 L162.03,50.61 L162.54,50.36 L163.05,50.10 L163.55,49.85 L164.06,49.60 L164.57,49.35 L165.07,49.10 L165.58,48.86 L166.09,48.61 L166.59,48.36 L167.10,48.12 L167.60,47.87 L168.11,47.63 L168.62,47.39 L169.12,47.15 L169.63,46.90 L170.14,46.66 L170.64,46.43 L171.15,46.19 L171.66,45.95 L172.16,45.71 L172.67,45.48 L173.18,45.24 L173.68,45.01 L174.19,44.78 L174.70,44.55 L175.20,44.31 L175.71,44.08 L176.22,43.85 L176.72,43.63 L177.23,43.40 L177.73,43.17 L178.24,42.94 L178.75,42.72 L179.25,42.49 L179.76,42.27 L180.27,42.05 L180.77,41.83 L181.28,41.60 L181.79,41.38 L182.29,41.16 L182.80,40.95 L183.31,40.73 L183.81,40.51 L184.32,40.29 L184.83,40.08 L185.33,39.86 L185.84,39.65 L186.35,39.43 L186.85,39.22 L187.36,39.01 L187.86,38.80 L188.37,38.59 L188.88,38.38 L189.38,38.17 L189.89,37.96 L190.40,37.75 L190.90,37.55 L191.41,37.34 L191.92,37.13 L192.42,36.93 L192.93,36.73 L193.44,36.52 L193.94,36.32 L194.45,36.12 L194.96,35.92 L195.46,35.72 L195.97,35.52 L196.48,35.32 L196.98,35.12 L197.49,34.92 L197.99,34.73 L198.50,34.53 L199.01,34.34 L199.51,34.14 L200.02,33.95 L200.53,33.75 L201.03,33.56 L201.54,33.37 L202.05,33.18 L202.55,32.99 L203.06,32.80 L203.57,32.61 L204.07,32.42 L204.58,32.23 L205.09,32.04 L205.59,31.86 L206.10,31.67 L206.61,31.49 L207.11,31.30 L207.62,31.12" fill="none" stroke="#bf00bf" stroke-width="1.92" stroke-linecap="square" stroke-linejoin="round"/>
</g>
<g clip-path="url(#c1)">
<path d="M318.86,28.60 L318.86,29.19 L318.87,29.79 L318.88,30.38 L318.89,30.97 L318.90,31.56 L318.92,32.16 L318.95,32.75 L318.97,33.34 L319.00,33.93 L319.04,34.53 L319.07,35.12 L319.11,35.71 L319.16,36.30 L319.21,36.90 L319.26,37.49 L319.31,38.08 L319.37,38.67 L319.43,39.27 L319.50,39.86 L319.57,40.45 L319.64,41.04 L319.72,41.64 L319.80,42.23 L319.88,42.82 L319.96,43.41 L320.06,44.00 L320.15,44.60 L320.25,45.19 L320.35,45.78 L320.45,46.37 L320.56,46.96 L320.67,47.56 L320.79,48.15 L320.90,48.74 L321.03,49.33 L321.15,49.92 L321.28,50.52 L321.41,51.11 L321.55,51.70 L321.69,52.29 L321.83,52.88 L321.98,53.47 L322.13,54.06 L322.28,54.66 L322.44,55.25 L322.60,55.84 L322.77,56.43 L322.93,57.02 L323.10,57.61 L323.28,58.20 L323.46,58.79 L323.64,59.38 L323.83,59.97 L324.02,60.56 L324.21,61.15 L324.40,61.75 L324.60,62.34 L324.81,62.93 L325.01,63.52 L325.22,64.11 L325.44,64.70 L325.66,65.29 L325.88,65.88 L326.10,66.47 L326.33,67.05 L326.56,67.64 L326.80,68.23 L327.03,68.82 L327.28,69.41 L327.52,70.00 L327.77,70.59 L328.02,71.18 L328.28,71.77 L328.54,72.36 L328.80,72.95 L329.07,73.53 L329.34,74.12 L329.62,74.71 L329.89,75.30 L330.17,75.89 L330.46,76.47 L330.75,77.06 L331.04,77.65 L331.33,78.24 L331.63,78.83 L331.94,79.41 L332.24,80.00 L332.55,80.59 L332.86,81.17 L333.18,81.76 L333.50,82.35 L333.82,82.93 L334.15,83.52 L334.48,84.11 L334.82,84.69 L335.15,85.28 L335.49,85.86 L335.84,86.45 L336.19,87.04 L336.54,87.62 L336.89,88.21 L337.25,88.79 L337.62,89.38 L337.98,89.96 L338.35,90.55 L338.72,91.13 L339.10,91.71 L339.48,92.30 L339.86,92.88 L340.25,93.47 L340.64,94.05 L341.04,94.63 L341.43,95.22 L341.84,95.80 L342.24,96.38 L342.65,96.97 L343.06,97.55 L343.48,98.13 L343.89,98.71 L344.32,99.30 L344.74,99.88 L345.17,100.46 L345.61,101.04 L346.04,101.62 L346.48,102.21 L346.93,102.79 L347.37,103.37 L347.82,103.95 L348.28,104.53 L348.74,105.11 L349.20,105.69 L349.66,106.27 L350.13,106.85 L350.60,107.43 L351.08,108.01 L351.56,108.59 L352.04,109.17 L352.53,109.75 L353.02,110.32 L353.51,110.90 L354.01,111.48 L354.51,112.06 L355.01,112.64 L355.52,113.21 L356.03,113.79 L356.54,114.37 L357.06,114.95 L357.58,115.52 L358.11,116.10 L358.64,116.68 L359.17,117.25 L359.71,117.83 L360.24,118.40 L360.79,118.98 L361.33,119.55 L361.88,120.13 L362.44,120.70 L362.99,121.28 L363.55,121.85 L364.12,122.43 L364.69,123.00 L365.26,123.57 L365.83,124.15 L366.41,124.72 L366.99,125.29 L367.58,125.87 L368.16,126.44 L368.76,127.01 L369.35,127.58 L369.95,128.15 L370.55,128.73 L371.16,129.30 L371.77,129.87 L372.38,130.44 L373.00,131.01 L373.62,131.58 L374.25,132.15 L374.87,132.72 L375.50,133.29 L376.14,133.86 L376.78,134.43 L377.42,134.99 L378.06,135.56 L378.71,136.13 L379.37,136.70 L380.02,137.27 L380.68,137.83 L381.34,138.40 L382.01,138.97 L382.68,139.53 L383.35,140.10 L384.03,140.67 L384.71,141.23 L385.40,141.80 L386.08,142.36 L386.77,142.93 L387.47,143.49 L388.17,144.06 L388.87,144.62 L389.58,145.18 L390.28,145.75 L391.00,146.31 L391.71,146.87 L392.43,147.43 L393.16,148.00 L393.88,148.56 L394.61,149.12 L395.35,149.68 L396.08,150.24 L396.82,150.80 L397.57,151.36 L398.32,151.92 L399.07,152.48 L399.82,153.04 L400.58,153.60 L401.34,154.16 L402.11,154.72 L402.88,155.28 L403.65,155.83 L404.43,156.39 L405.20,156.95 L405.99,157.51 L406.77,158.06 L407.57,158.62 L408.36,159.17 L409.16,159.73 L409.96,160.29 L410.76,160.84 L411.57,161.39 L412.38,161.95 L413.20,162.50 L414.01,163.06 L414.84,163.61 L415.66,164.16 L416.49,164.72 L417.32,165.27 L418.16,165.82 L419.00,166.37 L419.84,166.92 L420.69,167.47 L421.54,168.02 L422.39,168.57 L423.25,169.12 L424.11,169.67 L424.98,170.22 L425.84,170.77 L426.72,171.32 L427.59,171.87 L428.47,172.41 L429.35,172.96 L430.24,173.51 L431.13,174.05 L432.02,174.60 L432.92,175.15 L433.82,175.69 L434.72,176.24 L435.63,176.78 L436.54,177.33 L437.45,177.87 L438.37,178.41 L439.29,178.96 L440.21,179.50 L441.14,180.04 L442.07,180.58 L443.01,181.12 L443.95,181.67 L444.89,182.21 L445.84,182.75 L446.79,183.29 L447.74,183.83 L448.69,184.37 L449.65,184.91 L450.62,185.44 L451.59,185.98 L452.56,186.52 L453.53,187.06 L454.51,187.59 L455.49,188.13 L456.47,188.67 L457.46,189.20 L458.45,189.74 L459.45,190.27 L460.45,190.81 L461.45,191.34 L462.46,191.87 L463.47,192.41 L464.48,192.94 L465.49,193.47 L466.51,194.00 L467.54,194.54 L468.57,195.07 L469.60,195.60 L470.63,196.13 L471.67,196.66 L472.71,197.19 L473.75,197.72 L474.80,198.24 L475.85,198.77 L476.91,199.30" fill="none" stroke="#0000ff" stroke-width="1.92" stroke-linecap="square" stroke-linejoin="round"/>
<path d="M318.86,28.60 L318.86,29.19 L318.87,29.79 L318.88,30.38 L318.89,30.97 L318.90,31.56 L318.92,32.16 L318.95,32.75 L318.97,33.34 L319.00,33.93 L319.04,34.53 L319.07,35.12 L319.11,35.71 L319.16,36.30 L319.21,36.90 L319.26,37.49 L319.31,38.08 L319.37,38.67 L319.43,39.27 L319.50,39.86 L319.57,40.45 L319.64,41.04 L319.72,41.64 L319.80,42.23 L319.88,42.82 L319.96,43.41 L320.06,44.01 L320.15,44.60 L320.25,45.19 L320.35,45.78 L320.45,46.38 L320.56,46.97 L320.67,47.56 L320.79,48.15 L320.90,48.75 L321.03,49.34 L321.15,49.93 L321.28,50.52 L321.41,51.12 L321.55,51.71 L321.69,52.30 L321.83,52.89 L321.98,53.48 L322.13,54.08 L322.28,54.67 L322.44,55.26 L322.60,55.85 L322.77,56.44 L322.93,57.04 L323.10,57.63 L323.28,58.22 L323.46,58.81 L323.64,59.40 L323.83,60.00 L324.02,60.59 L324.21,61.18 L324.40,61.77 L324.60,62.36 L324.81,62.95 L325.01,63.55 L325.22,64.14 L325.44,64.73 L325.66,65.32 L325.88,65.91 L326.10,66.50 L326.33,67.10 L326.56,67.69 L326.80,68.28 L327.03,68.87 L327.28,69.46 L327.52,70.05 L327.77,70.64 L328.02,71.24 L328.28,71.83 L328.54,72.42 L328.80,73.01 L329.07,73.60 L329.34,74.19 L329.62,74.78 L329.89,75.37 L330.17,75.96 L330.46,76.55 L330.75,77.15 L331.04,77.74 L331.33,78.33 L331.63,78.92 L331.94,79.51 L332.24,80.10 L332.55,80.69 L332.86,81.28 L333.18,81.87 L333.50,82.46 L333.82,83.05 L334.15,83.64 L334.48,84.23 L334.82,84.82 L335.15,85.41 L335.49,86.00 L335.84,86.59 L336.19,87.18 L336.54,87.77 L336.89,88.36 L337.25,88.95 L337.62,89.54 L337.98,90.13 L338.35,90.72 L338.72,91.31 L339.10,91.90 L339.48,92.49 L339.86,93.08 L340.25,93.67 L340.64,94.26 L341.04,94.84 L341.43,95.43 L341.84,96.02 L342.24,96.61 L342.65,97.20 L343.06,97.79 L343.48,98.38 L343.89,98.97 L344.32,99.56 L344.74,100.14 L345.17,100.73 L345.61,101.32 L346.04,101.91 L346.48,102.50 L346.93,103.09 L347.37,103.67 L347.82,104.26 L348.28,104.85 L348.74,105.44 L349.20,106.03 L349.66,106.61 L350.13,107.20 L350.60,107.79 L351.08,108.38 L351.56,108.96 L352.04,109.55 L352.53,110.14 L353.02,110.73 L353.51,111.31 L354.01,111.90 L354.51,112.49 L355.01,113.07 L355.52,113.66 L356.03,114.25 L356.54,114.83 L357.06,115.42 L357.58,116.01 L358.11,116.59 L358.64,117.18 L359.17,117.77 L359.71,118.35 L360.24,118.94 L360.79,119.53 L361.33,120.11 L361.88,120.70 L362.44,121.28 L362.99,121.87 L363.55,122.45 L364.12,123.04 L364.69,123.63 L365.26,124.21 L365.83,124.80 L366.41,125.38 L366.99,125.97 L367.58,126.55 L368.16,127.14 L368.76,127.72 L369.35,128.31 L369.95,128.89 L370.55,129.47 L371.16,130.06 L371.77,130.64 L372.38,131.23 L373.00,131.81 L373.62,132.40 L374.25,132.98 L374.87,133.56 L375.50,134.15 L376.14,134.73 L376.78,135.31 L377.42,135.90 L378.06,136.48 L378.71,137.06 L379.37,137.65 L380.02,138.23 L380.68,138.81 L381.34,139.40 L382.01,139.98 L382.68,140.56 L383.35,141.14 L384.03,141.73 L384.71,142.31 L385.40,142.89 L386.08,143.47 L386.77,144.05 L387.47,144.64 L388.17,145.22 L388.87,145.80 L389.58,146.38 L390.28,146.96 L391.00,147.54 L391.71,148.12 L392.43,148.71 L393.16,149.29 L393.88,149.87 L394.61,150.45 L395.35,151.03 L396.08,151.61 L396.82,152.19 L397.57,152.77 L398.32,153.35 L399.07,153.93 L399.82,154.51 L400.58,155.09 L401.34,155.67 L402.11,156.25 L402.88,156.83 L403.65,157.41 L404.43,157.99 L405.20,158.56 L405.99,159.14 L406.77,159.72 L407.57,160.30 L408.36,160.88 L409.16,161.46 L409.96,162.04 L410.76,162.61 L411.57,163.19 L412.38,163.77 L413.20,164.35 L414.01,164.93 L414.84,165.50 L415.66,166.08 L416.49,166.66 L417.32,167.23 L418.16,167.81 L419.00,168.39 L419.84,168.96 L420.69,169.54 L421.54,170.12 L422.39,170.69 L423.25,171.27 L424.11,171.85 L424.98,172.42 L425.84,173.00 L426.72,173.57 L427.59,174.15 L428.47,174.72 L429.35,175.30 L430.24,175.87 L431.13,176.45 L432.02,177.02 L432.92,177.60 L433.82,178.17 L434.72,178.75 L435.63,179.32 L436.54,179.90 L437.45,180.47 L438.37,181.04 L439.29,181.62 L440.21,182.19 L441.14,182.76 L442.07,183.34 L443.01,183.91 L443.95,184.48 L444.89,185.06 L445.84,185.63 L446.79,186.20 L447.74,186.77 L448.69,187.34 L449.65,187.92 L450.62,188.49 L451.59,189.06 L452.56,189.63 L453.53,190.20 L454.51,190.77 L455.49,191.35 L456.47,191.92 L457.46,192.49 L458.45,193.06 L459.45,193.63 L460.45,194.20 L461.45,194.77 L462.46,195.34 L463.47,195.91 L464.48,196.48 L465.49,197.05 L466.51,197.62 L467.54,198.19 L468.57,198.75 L469.60,199.32 L470.63,199.89 L471.67,200.46 L472.71,201.03 L473.75,201.60 L474.80,202.16 L475.85,202.73 L476.91,203.30" fill="none" stroke="#ff0000" stroke-width="1.92" stroke-linecap="square" stroke-linejoin="round"/>
<path d="M318.86,28.60 L318.86,29.19 L318.87,29.79 L318.88,30.38 L318.89,30.97 L318.90,31.56 L318.92,32.16 L318.95,32.75 L318.97,33.34 L319.00,33.93 L319.04,34.53 L319.07,35.12 L319.11,35.71 L319.16,36.30 L319.21,36.90 L319.26,37.49 L319.31,38.08 L319.37,38.67 L319.43,39.27 L319.50,39.86 L319.57,40.45 L319.64,41.04 L319.72,41.64 L319.80,42.23 L319.88,42.82 L319.96,43.41 L320.06,44.01 L320.15,44.60 L320.25,45.19 L320.35,45.78 L320.45,46.37 L320.56,46.97 L320.67,47.56 L320.79,48.15 L320.90,48.74 L321.03,49.33 L321.15,49.93 L321.28,50.52 L321.41,51.11 L321.55,51.70 L321.69,52.29 L321.83,52.88 L321.98,53.48 L322.13,54.07 L322.28,54.66 L322.44,55.25 L322.60,55.84 L322.77,56.43 L322.93,57.03 L323.10,57.62 L323.28,58.21 L323.46,58.80 L323.64,59.39 L323.83,59.98 L324.02,60.57 L324.21,61.16 L324.40,61.75 L324.60,62.34 L324.81,62.94 L325.01,63.53 L325.22,64.12 L325.44,64.71 L325.66,65.30 L325.88,65.89 L326.10,66.48 L326.33,67.07 L326.56,67.66 L326.80,68.25 L327.03,68.84 L327.28,69.43 L327.52,70.02 L327.77,70.61 L328.02,71.20 L328.28,71.79 L328.54,72.38 L328.80,72.97 L329.07,73.56 L329.34,74.14 L329.62,74.73 L329.89,75.32 L330.17,75.91 L330.46,76.50 L330.75,77.09 L331.04,77.68 L331.33,78.27 L331.63,78.86 L331.94,79.44 L332.24,80.03 L332.55,80.62 L332.86,81.21 L333.18,81.80 L333.50,82.38 L333.82,82.97 L334.15,83.56 L334.48,84.15 L334.82,84.73 L335.15,85.32 L335.49,85.91 L335.84,86.50 L336.19,87.08 L336.54,87.67 L336.89,88.26 L337.25,88.84 L337.62,89.43 L337.98,90.02 L338.35,90.60 L338.72,91.19 L339.10,91.77 L339.48,92.36 L339.86,92.95 L340.25,93.53 L340.64,94.12 L341.04,94.70 L341.43,95.29 L341.84,95.87 L342.24,96.46 L342.65,97.04 L343.06,97.63 L343.48,98.21 L343.89,98.80 L344.32,99.38 L344.74,99.97 L345.17,100.55 L345.61,101.13 L346.04,101.72 L346.48,102.30 L346.93,102.88 L347.37,103.47 L347.82,104.05 L348.28,104.63 L348.74,105.22 L349.20,105.80 L349.66,106.38 L350.13,106.96 L350.60,107.55 L351.08,108.13 L351.56,108.71 L352.04,109.29 L352.53,109.87 L353.02,110.45 L353.51,111.04 L354.01,111.62 L354.51,112.20 L355.01,112.78 L355.52,113.36 L356.03,113.94 L356.54,114.52 L357.06,115.10 L357.58,115.68 L358.11,116.26 L358.64,116.84 L359.17,117.42 L359.71,118.00 L360.24,118.58 L360.79,119.16 L361.33,119.74 L361.88,120.31 L362.44,120.89 L362.99,121.47 L363.55,122.05 L364.12,122.63 L364.69,123.20 L365.26,123.78 L365.83,124.36 L366.41,124.94 L366.99,125.51 L367.58,126.09 L368.16,126.67 L368.76,127.24 L369.35,127.82 L369.95,128.39 L370.55,128.97 L371.16,129.54 L371.77,130.12 L372.38,130.69 L373.00,131.27 L373.62,131.84 L374.25,132.42 L374.87,132.99 L375.50,133.57 L376.14,134.14 L376.78,134.71 L377.42,135.29 L378.06,135.86 L378.71,136.43 L379.37,137.01 L380.02,137.58 L380.68,138.15 L381.34,138.72 L382.01,139.30 L382.68,139.87 L383.35,140.44 L384.03,141.01 L384.71,141.58 L385.40,142.15 L386.08,142.72 L386.77,143.29 L387.47,143.86 L388.17,144.43 L388.87,145.00 L389.58,145.57 L390.28,146.14 L391.00,146.71 L391.71,147.28 L392.43,147.85 L393.16,148.42 L393.88,148.98 L394.61,149.55 L395.35,150.12 L396.08,150.69 L396.82,151.25 L397.57,151.82 L398.32,152.39 L399.07,152.95 L399.82,153.52 L400.58,154.08 L401.34,154.65 L402.11,155.22 L402.88,155.78 L403.65,156.35 L404.43,156.91 L405.20,157.47 L405.99,158.04 L406.77,158.60 L407.57,159.17 L408.36,159.73 L409.16,160.29 L409.96,160.85 L410.76,161.42 L411.57,161.98 L412.38,162.54 L413.20,163.10 L414.01,163.66 L414.84,164.22 L415.66,164.79 L416.49,165.35 L417.32,165.91 L418.16,166.47 L419.00,167.03 L419.84,167.59 L420.69,168.14 L421.54,168.70 L422.39,169.26 L423.25,169.82 L424.11,170.38 L424.98,170.94 L425.84,171.49 L426.72,172.05 L427.59,172.61 L428.47,173.16 L429.35,173.72 L430.24,174.28 L431.13,174.83 L432.02,175.39 L432.92,175.94 L433.82,176.50 L434.72,177.05 L435.63,177.61 L436.54,178.16 L437.45,178.71 L438.37,179.27 L439.29,179.82 L440.21,180.37 L441.14,180.93 L442.07,181.48 L443.01,182.03 L443.95,182.58 L444.89,183.13 L445.84,183.68 L446.79,184.23 L447.74,184.78 L448.69,185.33 L449.65,185.88 L450.62,186.43 L451.59,186.98 L452.56,187.53 L453.53,188.08 L454.51,188.63 L455.49,189.18 L456.47,189.72 L457.46,190.27 L458.45,190.82 L459.45,191.36 L460.45,191.91 L461.45,192.45 L462.46,193.00 L463.47,193.54 L464.48,194.09 L465.49,194.63 L466.51,195.18 L467.54,195.72 L468.57,196.27 L469.60,196.81 L470.63,197.35 L471.67,197.89 L472.71,198.44 L473.75,198.98 L474.80,199.52 L475.85,200.06 L476.91,200.60" fill="none" stroke="#000000" stroke-width="1.92" stroke-linecap="square" stroke-linejoin="round"/>
<path d="M318.86,28.60 L318.86,29.19 L318.87,29.78 L318.88,30.37 L318.89,30.96 L318.90,31.54 L318.92,32.13 L318.95,32.72 L318.97,33.31 L319.00,33.90 L319.03,34.49 L319.07,35.08 L319.11,35.67 L319.15,36.25 L319.20,36.84 L319.25,37.43 L319.31,38.02 L319.36,38.61 L319.43,39.20 L319.49,39.79 L319.56,40.38 L319.63,40.96 L319.70,41.55 L319.78,42.14 L319.87,42.73 L319.95,43.32 L320.04,43.91 L320.13,44.50 L320.23,45.09 L320.33,45.68 L320.43,46.26 L320.54,46.85 L320.65,47.44 L320.76,48.03 L320.88,48.62 L321.00,49.21 L321.12,49.80 L321.25,50.39 L321.38,50.98 L321.51,51.56 L321.65,52.15 L321.79,52.74 L321.94,53.33 L322.09,53.92 L322.24,54.51 L322.39,55.10 L322.55,55.69 L322.71,56.28 L322.88,56.86 L323.05,57.45 L323.22,58.04 L323.40,58.63 L323.58,59.22 L323.76,59.81 L323.95,60.40 L324.14,60.99 L324.33,61.58 L324.53,62.17 L324.73,62.75 L324.93,63.34 L325.14,63.93 L325.35,64.52 L325.57,65.11 L325.79,65.70 L326.01,66.29 L326.23,66.88 L326.46,67.47 L326.69,68.06 L326.93,68.65 L327.17,69.24 L327.41,69.82 L327.66,70.41 L327.91,71.00 L328.16,71.59 L328.42,72.18 L328.68,72.77 L328.94,73.36 L329.21,73.95 L329.48,74.54 L329.75,75.13 L330.03,75.72 L330.31,76.31 L330.59,76.90 L330.88,77.49 L331.17,78.07 L331.47,78.66 L331.77,79.25 L332.07,79.84 L332.37,80.43 L332.68,81.02 L332.99,81.61 L333.31,82.20 L333.63,82.79 L333.95,83.38 L334.28,83.97 L334.61,84.56 L334.94,85.15 L335.28,85.74 L335.62,86.33 L335.96,86.92 L336.31,87.51 L336.66,88.10 L337.01,88.69 L337.37,89.28 L337.73,89.87 L338.10,90.46 L338.47,91.05 L338.84,91.64 L339.21,92.22 L339.59,92.81 L339.97,93.40 L340.36,93.99 L340.75,94.58 L341.14,95.17 L341.54,95.76 L341.94,96.35 L342.34,96.94 L342.75,97.53 L343.16,98.12 L343.57,98.71 L343.99,99.30 L344.41,99.89 L344.83,100.48 L345.26,101.07 L345.69,101.66 L346.12,102.25 L346.56,102.84 L347.00,103.43 L347.45,104.03 L347.90,104.62 L348.35,105.21 L348.80,105.80 L349.26,106.39 L349.73,106.98 L350.19,107.57 L350.66,108.16 L351.13,108.75 L351.61,109.34 L352.09,109.93 L352.57,110.52 L353.06,111.11 L353.55,111.70 L354.04,112.29 L354.54,112.88 L355.04,113.47 L355.55,114.06 L356.05,114.65 L356.57,115.24 L357.08,115.83 L357.60,116.42 L358.12,117.02 L358.65,117.61 L359.17,118.20 L359.71,118.79 L360.24,119.38 L360.78,119.97 L361.32,120.56 L361.87,121.15 L362.42,121.74 L362.97,122.33 L363.53,122.92 L364.09,123.52 L364.65,124.11 L365.22,124.70 L365.79,125.29 L366.36,125.88 L366.94,126.47 L367.52,127.06 L368.11,127.65 L368.70,128.25 L369.29,128.84 L369.88,129.43 L370.48,130.02 L371.08,130.61 L371.69,131.20 L372.30,131.79 L372.91,132.38 L373.53,132.98 L374.15,133.57 L374.77,134.16 L375.39,134.75 L376.02,135.34 L376.66,135.93 L377.29,136.53 L377.94,137.12 L378.58,137.71 L379.23,138.30 L379.88,138.89 L380.53,139.49 L381.19,140.08 L381.85,140.67 L382.52,141.26 L383.18,141.85 L383.86,142.45 L384.53,143.04 L385.21,143.63 L385.89,144.22 L386.58,144.81 L387.27,145.41 L387.96,146.00 L388.66,146.59 L389.36,147.18 L390.06,147.77 L390.77,148.37 L391.48,148.96 L392.19,149.55 L392.91,150.14 L393.63,150.74 L394.35,151.33 L395.08,151.92 L395.81,152.52 L396.54,153.11 L397.28,153.70 L398.02,154.29 L398.77,154.89 L399.52,155.48 L400.27,156.07 L401.03,156.66 L401.78,157.26 L402.55,157.85 L403.31,158.44 L404.08,159.04 L404.86,159.63 L405.63,160.22 L406.41,160.82 L407.20,161.41 L407.98,162.00 L408.77,162.60 L409.57,163.19 L410.36,163.78 L411.16,164.38 L411.97,164.97 L412.78,165.56 L413.59,166.16 L414.40,166.75 L415.22,167.34 L416.04,167.94 L416.87,168.53 L417.70,169.12 L418.53,169.72 L419.37,170.31 L420.21,170.91 L421.05,171.50 L421.89,172.09 L422.74,172.69 L423.60,173.28 L424.45,173.88 L425.31,174.47 L426.18,175.06 L427.05,175.66 L427.92,176.25 L428.79,176.85 L429.67,177.44 L430.55,178.04 L431.43,178.63 L432.32,179.22 L433.21,179.82 L434.11,180.41 L435.01,181.01 L435.91,181.60 L436.81,182.20 L437.72,182.79 L438.64,183.39 L439.55,183.98 L440.47,184.58 L441.40,185.17 L442.32,185.77 L443.25,186.36 L444.19,186.96 L445.12,187.55 L446.06,188.15 L447.01,188.74 L447.95,189.34 L448.91,189.93 L449.86,190.53 L450.82,191.12 L451.78,191.72 L452.74,192.32 L453.71,192.91 L454.68,193.51 L455.66,194.10 L456.64,194.70 L457.62,195.29 L458.61,195.89 L459.60,196.48 L460.59,197.08 L461.59,197.68 L462.59,198.27 L463.59,198.87 L464.60,199.47 L465.61,200.06 L466.62,200.66 L467.64,201.25 L468.66,201.85 L469.68,202.45 L470.71,203.04 L471.74,203.64 L472.78,204.24 L473.81,204.83 L474.86,205.43" fill="none" stroke="#0000ff" stroke-width="1.92" stroke-dasharray="1.92,3.17" stroke-linecap="butt" stroke-linejoin="round"/>
<path d="M318.86,28.60 L318.86,29.19 L318.87,29.78 L318.88,30.36 L318.89,30.95 L318.90,31.54 L318.92,32.13 L318.95,32.72 L318.97,33.31 L319.00,33.89 L319.03,34.48 L319.07,35.07 L319.11,35.66 L319.15,36.25 L319.20,36.83 L319.25,37.42 L319.31,38.01 L319.36,38.60 L319.42,39.19 L319.49,39.77 L319.56,40.36 L319.63,40.95 L319.70,41.54 L319.78,42.13 L319.86,42.71 L319.95,43.30 L320.04,43.89 L320.13,44.48 L320.23,45.07 L320.32,45.65 L320.43,46.24 L320.53,46.83 L320.64,47.42 L320.76,48.01 L320.87,48.59 L320.99,49.18 L321.12,49.77 L321.24,50.36 L321.37,50.94 L321.51,51.53 L321.65,52.12 L321.79,52.71 L321.93,53.29 L322.08,53.88 L322.23,54.47 L322.39,55.06 L322.54,55.64 L322.71,56.23 L322.87,56.82 L323.04,57.41 L323.21,57.99 L323.39,58.58 L323.57,59.17 L323.75,59.75 L323.94,60.34 L324.13,60.93 L324.32,61.52 L324.52,62.10 L324.72,62.69 L324.92,63.28 L325.13,63.86 L325.34,64.45 L325.55,65.04 L325.77,65.62 L325.99,66.21 L326.22,66.80 L326.45,67.38 L326.68,67.97 L326.91,68.56 L327.15,69.14 L327.39,69.73 L327.64,70.32 L327.89,70.90 L328.14,71.49 L328.40,72.07 L328.66,72.66 L328.92,73.25 L329.18,73.83 L329.45,74.42 L329.73,75.00 L330.00,75.59 L330.29,76.17 L330.57,76.76 L330.86,77.35 L331.15,77.93 L331.44,78.52 L331.74,79.10 L332.04,79.69 L332.35,80.27 L332.65,80.86 L332.97,81.44 L333.28,82.03 L333.60,82.61 L333.92,83.20 L334.25,83.78 L334.58,84.37 L334.91,84.95 L335.24,85.54 L335.58,86.12 L335.93,86.71 L336.27,87.29 L336.62,87.87 L336.98,88.46 L337.33,89.04 L337.69,89.63 L338.06,90.21 L338.43,90.79 L338.80,91.38 L339.17,91.96 L339.55,92.55 L339.93,93.13 L340.32,93.71 L340.70,94.30 L341.10,94.88 L341.49,95.46 L341.89,96.05 L342.29,96.63 L342.70,97.21 L343.11,97.79 L343.52,98.38 L343.94,98.96 L344.36,99.54 L344.78,100.13 L345.21,100.71 L345.64,101.29 L346.07,101.87 L346.51,102.45 L346.95,103.04 L347.39,103.62 L347.84,104.20 L348.29,104.78 L348.74,105.36 L349.20,105.95 L349.66,106.53 L350.13,107.11 L350.60,107.69 L351.07,108.27 L351.54,108.85 L352.02,109.43 L352.50,110.01 L352.99,110.59 L353.48,111.17 L353.97,111.76 L354.47,112.34 L354.97,112.92 L355.47,113.50 L355.98,114.08 L356.49,114.66 L357.00,115.24 L357.52,115.82 L358.04,116.40 L358.56,116.97 L359.09,117.55 L359.62,118.13 L360.16,118.71 L360.70,119.29 L361.24,119.87 L361.78,120.45 L362.33,121.03 L362.88,121.61 L363.44,122.18 L364.00,122.76 L364.56,123.34 L365.13,123.92 L365.70,124.50 L366.27,125.07 L366.84,125.65 L367.42,126.23 L368.01,126.81 L368.59,127.38 L369.19,127.96 L369.78,128.54 L370.38,129.12 L370.98,129.69 L371.58,130.27 L372.19,130.85 L372.80,131.42 L373.42,132.00 L374.03,132.57 L374.65,133.15 L375.28,133.73 L375.91,134.30 L376.54,134.88 L377.18,135.45 L377.82,136.03 L378.46,136.60 L379.10,137.18 L379.75,137.75 L380.41,138.33 L381.06,138.90 L381.72,139.48 L382.39,140.05 L383.05,140.62 L383.72,141.20 L384.40,141.77 L385.08,142.35 L385.76,142.92 L386.44,143.49 L387.13,144.07 L387.82,144.64 L388.51,145.21 L389.21,145.78 L389.91,146.36 L390.62,146.93 L391.33,147.50 L392.04,148.07 L392.76,148.65 L393.48,149.22 L394.20,149.79 L394.92,150.36 L395.65,150.93 L396.39,151.50 L397.12,152.07 L397.86,152.65 L398.61,153.22 L399.35,153.79 L400.10,154.36 L400.86,154.93 L401.62,155.50 L402.38,156.07 L403.14,156.64 L403.91,157.21 L404.68,157.78 L405.46,158.34 L406.23,158.91 L407.02,159.48 L407.80,160.05 L408.59,160.62 L409.38,161.19 L410.18,161.76 L410.98,162.32 L411.78,162.89 L412.59,163.46 L413.40,164.03 L414.21,164.59 L415.03,165.16 L415.85,165.73 L416.67,166.29 L417.50,166.86 L418.33,167.43 L419.16,167.99 L420.00,168.56 L420.84,169.13 L421.69,169.69 L422.53,170.26 L423.39,170.82 L424.24,171.39 L425.10,171.95 L425.96,172.52 L426.83,173.08 L427.69,173.65 L428.57,174.21 L429.44,174.77 L430.32,175.34 L431.21,175.90 L432.09,176.46 L432.98,177.03 L433.88,177.59 L434.77,178.15 L435.67,178.71 L436.58,179.28 L437.48,179.84 L438.39,180.40 L439.31,180.96 L440.23,181.52 L441.15,182.09 L442.07,182.65 L443.00,183.21 L443.93,183.77 L444.87,184.33 L445.81,184.89 L446.75,185.45 L447.69,186.01 L448.64,186.57 L449.59,187.13 L450.55,187.69 L451.51,188.25 L452.47,188.81 L453.44,189.36 L454.41,189.92 L455.38,190.48 L456.36,191.04 L457.34,191.60 L458.32,192.15 L459.31,192.71 L460.30,193.27 L461.30,193.83 L462.29,194.38 L463.30,194.94 L464.30,195.49 L465.31,196.05 L466.32,196.61 L467.34,197.16 L468.35,197.72 L469.38,198.27 L470.40,198.83 L471.43,199.38 L472.46,199.94 L473.50,200.49 L474.54,201.04" fill="none" stroke="#0000ff" stroke-width="1.92" stroke-dasharray="7.1,3.07" stroke-linecap="butt" stroke-linejoin="round"/>
<path d="M318.86,28.60 L318.86,29.19 L318.87,29.79 L318.88,30.38 L318.89,30.97 L318.90,31.56 L318.92,32.16 L318.95,32.75 L318.97,33.34 L319.00,33.93 L319.04,34.53 L319.07,35.12 L319.11,35.71 L319.16,36.30 L319.21,36.90 L319.26,37.49 L319.31,38.08 L319.37,38.67 L319.43,39.27 L319.50,39.86 L319.57,40.45 L319.64,41.04 L319.72,41.64 L319.80,42.23 L319.88,42.82 L319.96,43.41 L320.06,44.01 L320.15,44.60 L320.25,45.19 L320.35,45.78 L320.45,46.37 L320.56,46.97 L320.67,47.56 L320.79,48.15 L320.90,48.74 L321.03,49.33 L321.15,49.93 L321.28,50.52 L321.41,51.11 L321.55,51.70 L321.69,52.29 L321.83,52.89 L321.98,53.48 L322.13,54.07 L322.28,54.66 L322.44,55.25 L322.60,55.84 L322.77,56.43 L322.93,57.03 L323.10,57.62 L323.28,58.21 L323.46,58.80 L323.64,59.39 L323.83,59.98 L324.02,60.57 L324.21,61.16 L324.40,61.76 L324.60,62.35 L324.81,62.94 L325.01,63.53 L325.22,64.12 L325.44,64.71 L325.66,65.30 L325.88,65.89 L326.10,66.48 L326.33,67.07 L326.56,67.66 L326.80,68.25 L327.03,68.84 L327.28,69.43 L327.52,70.02 L327.77,70.61 L328.02,71.20 L328.28,71.79 L328.54,72.38 L328.80,72.97 L329.07,73.56 L329.34,74.15 L329.62,74.74 L329.89,75.33 L330.17,75.92 L330.46,76.50 L330.75,77.09 L331.04,77.68 L331.33,78.27 L331.63,78.86 L331.94,79.45 L332.24,80.04 L332.55,80.63 L332.86,81.21 L333.18,81.80 L333.50,82.39 L333.82,82.98 L334.15,83.57 L334.48,84.15 L334.82,84.74 L335.15,85.33 L335.49,85.92 L335.84,86.50 L336.19,87.09 L336.54,87.68 L336.89,88.26 L337.25,88.85 L337.62,89.44 L337.98,90.02 L338.35,90.61 L338.72,91.20 L339.10,91.78 L339.48,92.37 L339.86,92.96 L340.25,93.54 L340.64,94.13 L341.04,94.71 L341.43,95.30 L341.84,95.88 L342.24,96.47 L342.65,97.05 L343.06,97.64 L343.48,98.22 L343.89,98.81 L344.32,99.39 L344.74,99.98 L345.17,100.56 L345.61,101.15 L346.04,101.73 L346.48,102.31 L346.93,102.90 L347.37,103.48 L347.82,104.07 L348.28,104.65 L348.74,105.23 L349.20,105.82 L349.66,106.40 L350.13,106.98 L350.60,107.56 L351.08,108.15 L351.56,108.73 L352.04,109.31 L352.53,109.89 L353.02,110.47 L353.51,111.06 L354.01,111.64 L354.51,112.22 L355.01,112.80 L355.52,113.38 L356.03,113.96 L356.54,114.54 L357.06,115.12 L357.58,115.70 L358.11,116.28 L358.64,116.87 L359.17,117.44 L359.71,118.02 L360.24,118.60 L360.79,119.18 L361.33,119.76 L361.88,120.34 L362.44,120.92 L362.99,121.50 L363.55,122.08 L364.12,122.66 L364.69,123.23 L365.26,123.81 L365.83,124.39 L366.41,124.97 L366.99,125.55 L367.58,126.12 L368.16,126.70 L368.76,127.28 L369.35,127.85 L369.95,128.43 L370.55,129.01 L371.16,129.58 L371.77,130.16 L372.38,130.73 L373.00,131.31 L373.62,131.89 L374.25,132.46 L374.87,133.04 L375.50,133.61 L376.14,134.18 L376.78,134.76 L377.42,135.33 L378.06,135.91 L378.71,136.48 L379.37,137.05 L380.02,137.63 L380.68,138.20 L381.34,138.77 L382.01,139.35 L382.68,139.92 L383.35,140.49 L384.03,141.06 L384.71,141.64 L385.40,142.21 L386.08,142.78 L386.77,143.35 L387.47,143.92 L388.17,144.49 L388.87,145.06 L389.58,145.63 L390.28,146.20 L391.00,146.77 L391.71,147.34 L392.43,147.91 L393.16,148.48 L393.88,149.05 L394.61,149.62 L395.35,150.19 L396.08,150.75 L396.82,151.32 L397.57,151.89 L398.32,152.46 L399.07,153.03 L399.82,153.59 L400.58,154.16 L401.34,154.73 L402.11,155.29 L402.88,155.86 L403.65,156.42 L404.43,156.99 L405.20,157.55 L405.99,158.12 L406.77,158.68 L407.57,159.25 L408.36,159.81 L409.16,160.38 L409.96,160.94 L410.76,161.51 L411.57,162.07 L412.38,162.63 L413.20,163.19 L414.01,163.76 L414.84,164.32 L415.66,164.88 L416.49,165.44 L417.32,166.00 L418.16,166.57 L419.00,167.13 L419.84,167.69 L420.69,168.25 L421.54,168.81 L422.39,169.37 L423.25,169.93 L424.11,170.49 L424.98,171.05 L425.84,171.61 L426.72,172.16 L427.59,172.72 L428.47,173.28 L429.35,173.84 L430.24,174.40 L431.13,174.95 L432.02,175.51 L432.92,176.07 L433.82,176.62 L434.72,177.18 L435.63,177.73 L436.54,178.29 L437.45,178.84 L438.37,179.40 L439.29,179.95 L440.21,180.51 L441.14,181.06 L442.07,181.62 L443.01,182.17 L443.95,182.72 L444.89,183.28 L445.84,183.83 L446.79,184.38 L447.74,184.93 L448.69,185.48 L449.65,186.03 L450.62,186.59 L451.59,187.14 L452.56,187.69 L453.53,188.24 L454.51,188.79 L455.49,189.34 L456.47,189.88 L457.46,190.43 L458.45,190.98 L459.45,191.53 L460.45,192.08 L461.45,192.63 L462.46,193.17 L463.47,193.72 L464.48,194.27 L465.49,194.81 L466.51,195.36 L467.54,195.90 L468.57,196.45 L469.60,196.99 L470.63,197.54 L471.67,198.08 L472.71,198.63 L473.75,199.17 L474.80,199.71 L475.85,200.26 L476.91,200.80" fill="none" stroke="#0000ff" stroke-width="1.92" stroke-dasharray="12.29,3.07,1.92,3.07" stroke-linecap="butt" stroke-linejoin="round"/>
<path d="M318.86,28.60 L318.86,29.17 L318.87,29.74 L318.87,30.30 L318.89,30.87 L318.90,31.44 L318.92,32.01 L318.94,32.58 L318.96,33.15 L318.99,33.71 L319.02,34.28 L319.06,34.85 L319.09,35.42 L319.13,35.99 L319.18,36.55 L319.23,37.12 L319.28,37.69 L319.33,38.26 L319.39,38.83 L319.45,39.40 L319.51,39.96 L319.58,40.53 L319.65,41.10 L319.72,41.67 L319.80,42.24 L319.88,42.80 L319.96,43.37 L320.04,43.94 L320.13,44.51 L320.23,45.08 L320.32,45.65 L320.42,46.21 L320.52,46.78 L320.63,47.35 L320.74,47.92 L320.85,48.49 L320.97,49.06 L321.08,49.63 L321.21,50.19 L321.33,50.76 L321.46,51.33 L321.59,51.90 L321.73,52.47 L321.86,53.04 L322.01,53.60 L322.15,54.17 L322.30,54.74 L322.45,55.31 L322.60,55.88 L322.76,56.45 L322.92,57.02 L323.09,57.59 L323.25,58.15 L323.42,58.72 L323.60,59.29 L323.77,59.86 L323.95,60.43 L324.14,61.00 L324.33,61.57 L324.52,62.14 L324.71,62.71 L324.91,63.27 L325.11,63.84 L325.31,64.41 L325.51,64.98 L325.72,65.55 L325.94,66.12 L326.15,66.69 L326.37,67.26 L326.60,67.83 L326.82,68.40 L327.05,68.97 L327.28,69.54 L327.52,70.11 L327.76,70.68 L328.00,71.24 L328.24,71.81 L328.49,72.38 L328.74,72.95 L329.00,73.52 L329.26,74.09 L329.52,74.66 L329.78,75.23 L330.05,75.80 L330.32,76.37 L330.60,76.94 L330.88,77.51 L331.16,78.08 L331.44,78.65 L331.73,79.22 L332.02,79.79 L332.31,80.36 L332.61,80.93 L332.91,81.50 L333.22,82.07 L333.52,82.64 L333.83,83.21 L334.15,83.78 L334.46,84.35 L334.78,84.93 L335.11,85.50 L335.43,86.07 L335.76,86.64 L336.10,87.21 L336.43,87.78 L336.77,88.35 L337.11,88.92 L337.46,89.49 L337.81,90.06 L338.16,90.63 L338.52,91.20 L338.88,91.78 L339.24,92.35 L339.61,92.92 L339.97,93.49 L340.35,94.06 L340.72,94.63 L341.10,95.20 L341.48,95.78 L341.87,96.35 L342.26,96.92 L342.65,97.49 L343.04,98.06 L343.44,98.63 L343.84,99.21 L344.25,99.78 L344.65,100.35 L345.06,100.92 L345.48,101.49 L345.90,102.07 L346.32,102.64 L346.74,103.21 L347.17,103.78 L347.60,104.36 L348.03,104.93 L348.47,105.50 L348.91,106.07 L349.35,106.65 L349.80,107.22 L350.25,107.79 L350.70,108.36 L351.16,108.94 L351.62,109.51 L352.08,110.08 L352.55,110.66 L353.02,111.23 L353.49,111.80 L353.97,112.38 L354.45,112.95 L354.93,113.52 L355.42,114.10 L355.90,114.67 L356.40,115.25 L356.89,115.82 L357.39,116.39 L357.89,116.97 L358.40,117.54 L358.91,118.12 L359.42,118.69 L359.93,119.26 L360.45,119.84 L360.97,120.41 L361.50,120.99 L362.03,121.56 L362.56,122.14 L363.09,122.71 L363.63,123.29 L364.17,123.86 L364.71,124.44 L365.26,125.01 L365.81,125.59 L366.37,126.16 L366.92,126.74 L367.49,127.31 L368.05,127.89 L368.62,128.46 L369.19,129.04 L369.76,129.62 L370.34,130.19 L370.92,130.77 L371.50,131.34 L372.09,131.92 L372.68,132.50 L373.27,133.07 L373.87,133.65 L374.46,134.23 L375.07,134.80 L375.67,135.38 L376.28,135.96 L376.90,136.53 L377.51,137.11 L378.13,137.69 L378.75,138.26 L379.38,138.84 L380.01,139.42 L380.64,140.00 L381.27,140.57 L381.91,141.15 L382.55,141.73 L383.20,142.31 L383.85,142.89 L384.50,143.46 L385.15,144.04 L385.81,144.62 L386.47,145.20 L387.14,145.78 L387.80,146.36 L388.48,146.93 L389.15,147.51 L389.83,148.09 L390.51,148.67 L391.19,149.25 L391.88,149.83 L392.57,150.41 L393.26,150.99 L393.96,151.57 L394.66,152.15 L395.36,152.73 L396.07,153.31 L396.78,153.89 L397.49,154.47 L398.21,155.05 L398.93,155.63 L399.65,156.21 L400.38,156.79 L401.11,157.37 L401.84,157.95 L402.58,158.53 L403.32,159.11 L404.06,159.69 L404.81,160.27 L405.55,160.85 L406.31,161.44 L407.06,162.02 L407.82,162.60 L408.58,163.18 L409.35,163.76 L410.12,164.34 L410.89,164.93 L411.66,165.51 L412.44,166.09 L413.22,166.67 L414.01,167.26 L414.80,167.84 L415.59,168.42 L416.38,169.00 L417.18,169.59 L417.98,170.17 L418.78,170.75 L419.59,171.34 L420.40,171.92 L421.22,172.50 L422.03,173.09 L422.85,173.67 L423.68,174.26 L424.50,174.84 L425.33,175.42 L426.17,176.01 L427.01,176.59 L427.85,177.18 L428.69,177.76 L429.53,178.35 L430.38,178.93 L431.24,179.52 L432.09,180.10 L432.95,180.69 L433.82,181.27 L434.68,181.86 L435.55,182.45 L436.42,183.03 L437.30,183.62 L438.18,184.20 L439.06,184.79 L439.95,185.38 L440.83,185.96 L441.73,186.55 L442.62,187.14 L443.52,187.72 L444.42,188.31 L445.33,188.90 L446.23,189.49 L447.15,190.07 L448.06,190.66 L448.98,191.25 L449.90,191.84 L450.82,192.43 L451.75,193.01 L452.68,193.60 L453.62,194.19 L454.55,194.78 L455.50,195.37 L456.44,195.96 L457.39,196.55 L458.34,197.14 L459.29,197.73 L460.25,198.31 L461.21,198.90 L462.17,199.49 L463.14,200.08 L464.11,200.67" fill="none" stroke="#00bfbf" stroke-width="1.92" stroke-linecap="square" stroke-linejoin="round"/>
<path d="M318.86,28.60 L318.86,29.18 L318.87,29.76 L318.88,30.35 L318.89,30.93 L318.90,31.51 L318.92,32.09 L318.94,32.68 L318.97,33.26 L319.00,33.84 L319.03,34.42 L319.07,35.00 L319.11,35.59 L319.15,36.17 L319.19,36.75 L319.24,37.33 L319.30,37.91 L319.35,38.50 L319.41,39.08 L319.48,39.66 L319.54,40.24 L319.61,40.83 L319.69,41.41 L319.76,41.99 L319.84,42.57 L319.93,43.15 L320.01,43.74 L320.10,44.32 L320.20,44.90 L320.29,45.48 L320.40,46.07 L320.50,46.65 L320.61,47.23 L320.72,47.81 L320.83,48.39 L320.95,48.98 L321.07,49.56 L321.20,50.14 L321.32,50.72 L321.45,51.30 L321.59,51.89 L321.73,52.47 L321.87,53.05 L322.01,53.63 L322.16,54.22 L322.31,54.80 L322.47,55.38 L322.63,55.96 L322.79,56.54 L322.96,57.13 L323.13,57.71 L323.30,58.29 L323.47,58.87 L323.65,59.46 L323.83,60.04 L324.02,60.62 L324.21,61.20 L324.40,61.78 L324.60,62.37 L324.80,62.95 L325.00,63.53 L325.21,64.11 L325.42,64.70 L325.63,65.28 L325.85,65.86 L326.07,66.44 L326.29,67.02 L326.52,67.61 L326.75,68.19 L326.98,68.77 L327.22,69.35 L327.46,69.93 L327.70,70.52 L327.95,71.10 L328.20,71.68 L328.46,72.26 L328.71,72.85 L328.97,73.43 L329.24,74.01 L329.51,74.59 L329.78,75.17 L330.05,75.76 L330.33,76.34 L330.61,76.92 L330.90,77.50 L331.19,78.09 L331.48,78.67 L331.77,79.25 L332.07,79.83 L332.37,80.41 L332.68,81.00 L332.99,81.58 L333.30,82.16 L333.62,82.74 L333.93,83.32 L334.26,83.91 L334.58,84.49 L334.91,85.07 L335.24,85.65 L335.58,86.24 L335.92,86.82 L336.26,87.40 L336.61,87.98 L336.96,88.56 L337.31,89.15 L337.67,89.73 L338.03,90.31 L338.39,90.89 L338.76,91.48 L339.13,92.06 L339.50,92.64 L339.88,93.22 L340.26,93.80 L340.64,94.39 L341.03,94.97 L341.42,95.55 L341.82,96.13 L342.21,96.71 L342.61,97.30 L343.02,97.88 L343.43,98.46 L343.84,99.04 L344.25,99.63 L344.67,100.21 L345.09,100.79 L345.52,101.37 L345.94,101.95 L346.38,102.54 L346.81,103.12 L347.25,103.70 L347.69,104.28 L348.14,104.87 L348.59,105.45 L349.04,106.03 L349.49,106.61 L349.95,107.19 L350.41,107.78 L350.88,108.36 L351.35,108.94 L351.82,109.52 L352.30,110.10 L352.78,110.69 L353.26,111.27 L353.75,111.85 L354.24,112.43 L354.73,113.02 L355.23,113.60 L355.72,114.18 L356.23,114.76 L356.73,115.34 L357.25,115.93 L357.76,116.51 L358.28,117.09 L358.80,117.67 L359.32,118.26 L359.85,118.84 L360.38,119.42 L360.91,120.00 L361.45,120.58 L361.99,121.17 L362.53,121.75 L363.08,122.33 L363.63,122.91 L364.19,123.50 L364.74,124.08 L365.31,124.66 L365.87,125.24 L366.44,125.82 L367.01,126.41 L367.59,126.99 L368.16,127.57 L368.75,128.15 L369.33,128.73 L369.92,129.32 L370.51,129.90 L371.11,130.48 L371.71,131.06 L372.31,131.65 L372.91,132.23 L373.52,132.81 L374.13,133.39 L374.75,133.97 L375.37,134.56 L375.99,135.14 L376.62,135.72 L377.25,136.30 L377.88,136.89 L378.52,137.47 L379.16,138.05 L379.80,138.63 L380.45,139.21 L381.10,139.80 L381.75,140.38 L382.41,140.96 L383.07,141.54 L383.73,142.12 L384.40,142.71 L385.07,143.29 L385.74,143.87 L386.42,144.45 L387.10,145.04 L387.78,145.62 L388.47,146.20 L389.16,146.78 L389.86,147.36 L390.55,147.95 L391.26,148.53 L391.96,149.11 L392.67,149.69 L393.38,150.28 L394.09,150.86 L394.81,151.44 L395.53,152.02 L396.26,152.60 L396.99,153.19 L397.72,153.77 L398.46,154.35 L399.19,154.93 L399.94,155.51 L400.68,156.10 L401.43,156.68 L402.18,157.26 L402.94,157.84 L403.70,158.43 L404.46,159.01 L405.23,159.59 L406.00,160.17 L406.77,160.75 L407.54,161.34 L408.32,161.92 L409.11,162.50 L409.89,163.08 L410.68,163.67 L411.48,164.25 L412.27,164.83 L413.07,165.41 L413.88,165.99 L414.68,166.58 L415.49,167.16 L416.31,167.74 L417.13,168.32 L417.95,168.91 L418.77,169.49 L419.60,170.07 L420.43,170.65 L421.26,171.23 L422.10,171.82 L422.94,172.40 L423.79,172.98 L424.63,173.56 L425.49,174.14 L426.34,174.73 L427.20,175.31 L428.06,175.89 L428.92,176.47 L429.79,177.06 L430.66,177.64 L431.54,178.22 L432.42,178.80 L433.30,179.38 L434.19,179.97 L435.07,180.55 L435.97,181.13 L436.86,181.71 L437.76,182.30 L438.66,182.88 L439.57,183.46 L440.48,184.04 L441.39,184.62 L442.31,185.21 L443.23,185.79 L444.15,186.37 L445.08,186.95 L446.01,187.53 L446.94,188.12 L447.88,188.70 L448.82,189.28 L449.76,189.86 L450.71,190.45 L451.66,191.03 L452.61,191.61 L453.57,192.19 L454.53,192.77 L455.49,193.36 L456.46,193.94 L457.43,194.52 L458.40,195.10 L459.38,195.69 L460.36,196.27 L461.35,196.85 L462.33,197.43 L463.33,198.01 L464.32,198.60 L465.32,199.18 L466.32,199.76 L467.32,200.34 L468.33,200.92 L469.34,201.51 L470.36,202.09 L471.38,202.67" fill="none" stroke="#bf00bf" stroke-width="1.92" stroke-linecap="square" stroke-linejoin="round"/>
</g>
<g clip-path="url(#c2)">
<path d="M582.50,207.06 L583.03,206.16 L583.56,205.26 L584.09,204.37 L584.61,203.47 L585.14,202.57 L585.67,201.68 L586.20,200.78 L586.73,199.88 L587.26,198.99 L587.79,198.09 L588.31,197.19 L588.84,196.30 L589.37,195.41 L589.90,194.52 L590.43,193.63 L590.96,192.74 L591.49,191.86 L592.01,190.97 L592.54,190.09 L593.07,189.22 L593.60,188.35 L594.13,187.48 L594.66,186.62 L595.19,185.76 L595.71,184.91 L596.24,184.07 L596.77,183.23 L597.30,182.41 L597.83,181.59 L598.36,180.77 L598.89,179.97 L599.42,179.18 L599.94,178.40 L600.47,177.63 L601.00,176.87 L601.53,176.13 L602.06,175.39 L602.59,174.67 L603.12,173.97 L603.64,173.27 L604.17,172.60 L604.70,171.93 L605.23,171.28 L605.76,170.65 L606.29,170.03 L606.82,169.43 L607.34,168.84 L607.87,168.27 L608.40,167.72 L608.93,167.18 L609.46,166.65 L609.99,166.15 L610.52,165.65 L611.04,165.18 L611.57,164.71 L612.10,164.27 L612.63,163.83 L613.16,163.42 L613.69,163.01 L614.22,162.62 L614.74,162.25 L615.27,161.89 L615.80,161.54 L616.33,161.20 L616.86,160.88 L617.39,160.56 L617.92,160.26 L618.44,159.97 L618.97,159.69 L619.50,159.43 L620.03,159.17 L620.56,158.92 L621.09,158.68 L621.62,158.45 L622.14,158.23 L622.67,158.02 L623.20,157.82 L623.73,157.62 L624.26,157.43 L624.79,157.25 L625.32,157.08 L625.84,156.91 L626.37,156.75 L626.90,156.60 L627.43,156.45 L627.96,156.31 L628.49,156.17 L629.02,156.04 L629.54,155.91 L630.07,155.79 L630.60,155.67 L631.13,155.56 L631.66,155.45 L632.19,155.35 L632.72,155.25 L633.25,155.15 L633.77,155.06 L634.30,154.97 L634.83,154.88 L635.36,154.80 L635.89,154.72 L636.42,154.64 L636.95,154.57 L637.47,154.50 L638.00,154.43 L638.53,154.36 L639.06,154.30 L639.59,154.24 L640.12,154.18 L640.65,154.12 L641.17,154.06 L641.70,154.01 L642.23,153.96 L642.76,153.91 L643.29,153.86 L643.82,153.81 L644.35,153.77 L644.87,153.73 L645.40,153.68 L645.93,153.64 L646.46,153.60 L646.99,153.57 L647.52,153.53 L648.05,153.49 L648.57,153.46 L649.10,153.43 L649.63,153.39 L650.16,153.36 L650.69,153.33 L651.22,153.30 L651.75,153.27 L652.27,153.25 L652.80,153.22 L653.33,153.19 L653.86,153.17 L654.39,153.14 L654.92,153.12 L655.45,153.10 L655.97,153.08 L656.50,153.05 L657.03,153.03 L657.56,153.01 L658.09,152.99 L658.62,152.97 L659.15,152.96 L659.67,152.94 L660.20,152.92 L660.73,152.90 L661.26,152.89 L661.79,152.87 L662.32,152.86 L662.85,152.84 L663.38,152.83 L663.90,152.81 L664.43,152.80 L664.96,152.78 L665.49,152.77 L666.02,152.76 L666.55,152.74 L667.08,152.73 L667.60,152.72 L668.13,152.71 L668.66,152.70 L669.19,152.69 L669.72,152.68 L670.25,152.67 L670.78,152.66 L671.30,152.65 L671.83,152.64 L672.36,152.63 L672.89,152.62 L673.42,152.61 L673.95,152.60 L674.48,152.59 L675.00,152.58 L675.53,152.58 L676.06,152.57 L676.59,152.56 L677.12,152.55 L677.65,152.55 L678.18,152.54 L678.70,152.53 L679.23,152.52 L679.76,152.52 L680.29,152.51 L680.82,152.50 L681.35,152.50 L681.88,152.49 L682.40,152.49 L682.93,152.48 L683.46,152.47 L683.99,152.47 L684.52,152.46 L685.05,152.46 L685.58,152.45 L686.10,152.45 L686.63,152.44 L687.16,152.44 L687.69,152.43 L688.22,152.43 L688.75,152.42 L689.28,152.42 L689.80,152.42 L690.33,152.41 L690.86,152.41 L691.39,152.40 L691.92,152.40 L692.45,152.40 L692.98,152.39 L693.51,152.39 L694.03,152.38 L694.56,152.38 L695.09,152.38 L695.62,152.37 L696.15,152.37 L696.68,152.37 L697.21,152.36 L697.73,152.36 L698.26,152.36 L698.79,152.35 L699.32,152.35 L699.85,152.35 L700.38,152.35 L700.91,152.34 L701.43,152.34 L701.96,152.34 L702.49,152.33 L703.02,152.33 L703.55,152.33 L704.08,152.33 L704.61,152.32 L705.13,152.32 L705.66,152.32 L706.19,152.32 L706.72,152.32 L707.25,152.31 L707.78,152.31 L708.31,152.31 L708.83,152.31 L709.36,152.30 L709.89,152.30 L710.42,152.30 L710.95,152.30 L711.48,152.30 L712.01,152.29 L712.53,152.29 L713.06,152.29 L713.59,152.29 L714.12,152.29 L714.65,152.29 L715.18,152.28 L715.71,152.28 L716.23,152.28 L716.76,152.28 L717.29,152.28 L717.82,152.28 L718.35,152.27 L718.88,152.27 L719.41,152.27 L719.93,152.27 L720.46,152.27 L720.99,152.27 L721.52,152.27 L722.05,152.26 L722.58,152.26 L723.11,152.26 L723.63,152.26 L724.16,152.26 L724.69,152.26 L725.22,152.26 L725.75,152.26 L726.28,152.25 L726.81,152.25 L727.34,152.25 L727.86,152.25 L728.39,152.25 L728.92,152.25 L729.45,152.25 L729.98,152.25 L730.51,152.25 L731.04,152.24 L731.56,152.24 L732.09,152.24 L732.62,152.24 L733.15,152.24 L733.68,152.24 L734.21,152.24 L734.74,152.24 L735.26,152.24 L735.79,152.24 L736.32,152.23 L736.85,152.23 L737.38,152.23 L737.91,152.23 L738.44,152.23 L738.96,152.23 L739.49,152.23 L740.02,152.23 L740.55,152.23" fill="none" stroke="#0000ff" stroke-width="1.92" stroke-linecap="square" stroke-linejoin="round"/>
<path d="M582.50,207.06 L583.03,206.16 L583.56,205.26 L584.09,204.37 L584.61,203.47 L585.14,202.57 L585.67,201.68 L586.20,200.78 L586.73,199.88 L587.26,198.99 L587.79,198.09 L588.31,197.19 L588.84,196.30 L589.37,195.41 L589.90,194.52 L590.43,193.63 L590.96,192.74 L591.49,191.85 L592.01,190.97 L592.54,190.09 L593.07,189.21 L593.60,188.34 L594.13,187.47 L594.66,186.61 L595.19,185.75 L595.71,184.90 L596.24,184.05 L596.77,183.21 L597.30,182.38 L597.83,181.55 L598.36,180.73 L598.89,179.93 L599.42,179.13 L599.94,178.34 L600.47,177.56 L601.00,176.80 L601.53,176.04 L602.06,175.30 L602.59,174.57 L603.12,173.86 L603.64,173.15 L604.17,172.46 L604.70,171.79 L605.23,171.13 L605.76,170.48 L606.29,169.85 L606.82,169.23 L607.34,168.63 L607.87,168.04 L608.40,167.47 L608.93,166.92 L609.46,166.38 L609.99,165.86 L610.52,165.35 L611.04,164.85 L611.57,164.37 L612.10,163.91 L612.63,163.46 L613.16,163.03 L613.69,162.61 L614.22,162.20 L614.74,161.81 L615.27,161.43 L615.80,161.07 L616.33,160.71 L616.86,160.37 L617.39,160.05 L617.92,159.73 L618.44,159.43 L618.97,159.13 L619.50,158.85 L620.03,158.58 L620.56,158.32 L621.09,158.06 L621.62,157.82 L622.14,157.59 L622.67,157.36 L623.20,157.15 L623.73,156.94 L624.26,156.74 L624.79,156.55 L625.32,156.36 L625.84,156.19 L626.37,156.02 L626.90,155.85 L627.43,155.69 L627.96,155.54 L628.49,155.39 L629.02,155.25 L629.54,155.12 L630.07,154.99 L630.60,154.86 L631.13,154.74 L631.66,154.62 L632.19,154.51 L632.72,154.40 L633.25,154.30 L633.77,154.20 L634.30,154.10 L634.83,154.01 L635.36,153.92 L635.89,153.84 L636.42,153.75 L636.95,153.67 L637.47,153.60 L638.00,153.52 L638.53,153.45 L639.06,153.38 L639.59,153.31 L640.12,153.25 L640.65,153.19 L641.17,153.13 L641.70,153.07 L642.23,153.01 L642.76,152.96 L643.29,152.91 L643.82,152.86 L644.35,152.81 L644.87,152.76 L645.40,152.72 L645.93,152.67 L646.46,152.63 L646.99,152.59 L647.52,152.55 L648.05,152.51 L648.57,152.47 L649.10,152.44 L649.63,152.40 L650.16,152.37 L650.69,152.33 L651.22,152.30 L651.75,152.27 L652.27,152.24 L652.80,152.21 L653.33,152.19 L653.86,152.16 L654.39,152.13 L654.92,152.11 L655.45,152.08 L655.97,152.06 L656.50,152.03 L657.03,152.01 L657.56,151.99 L658.09,151.97 L658.62,151.95 L659.15,151.93 L659.67,151.91 L660.20,151.89 L660.73,151.87 L661.26,151.85 L661.79,151.83 L662.32,151.82 L662.85,151.80 L663.38,151.79 L663.90,151.77 L664.43,151.75 L664.96,151.74 L665.49,151.73 L666.02,151.71 L666.55,151.70 L667.08,151.68 L667.60,151.67 L668.13,151.66 L668.66,151.65 L669.19,151.63 L669.72,151.62 L670.25,151.61 L670.78,151.60 L671.30,151.59 L671.83,151.58 L672.36,151.57 L672.89,151.56 L673.42,151.55 L673.95,151.54 L674.48,151.53 L675.00,151.52 L675.53,151.51 L676.06,151.50 L676.59,151.50 L677.12,151.49 L677.65,151.48 L678.18,151.47 L678.70,151.46 L679.23,151.46 L679.76,151.45 L680.29,151.44 L680.82,151.44 L681.35,151.43 L681.88,151.42 L682.40,151.42 L682.93,151.41 L683.46,151.40 L683.99,151.40 L684.52,151.39 L685.05,151.39 L685.58,151.38 L686.10,151.37 L686.63,151.37 L687.16,151.36 L687.69,151.36 L688.22,151.35 L688.75,151.35 L689.28,151.34 L689.80,151.34 L690.33,151.33 L690.86,151.33 L691.39,151.33 L691.92,151.32 L692.45,151.32 L692.98,151.31 L693.51,151.31 L694.03,151.30 L694.56,151.30 L695.09,151.30 L695.62,151.29 L696.15,151.29 L696.68,151.29 L697.21,151.28 L697.73,151.28 L698.26,151.28 L698.79,151.27 L699.32,151.27 L699.85,151.27 L700.38,151.26 L700.91,151.26 L701.43,151.26 L701.96,151.25 L702.49,151.25 L703.02,151.25 L703.55,151.25 L704.08,151.24 L704.61,151.24 L705.13,151.24 L705.66,151.23 L706.19,151.23 L706.72,151.23 L707.25,151.23 L707.78,151.22 L708.31,151.22 L708.83,151.22 L709.36,151.22 L709.89,151.22 L710.42,151.21 L710.95,151.21 L711.48,151.21 L712.01,151.21 L712.53,151.21 L713.06,151.20 L713.59,151.20 L714.12,151.20 L714.65,151.20 L715.18,151.20 L715.71,151.19 L716.23,151.19 L716.76,151.19 L717.29,151.19 L717.82,151.19 L718.35,151.18 L718.88,151.18 L719.41,151.18 L719.93,151.18 L720.46,151.18 L720.99,151.18 L721.52,151.18 L722.05,151.17 L722.58,151.17 L723.11,151.17 L723.63,151.17 L724.16,151.17 L724.69,151.17 L725.22,151.17 L725.75,151.16 L726.28,151.16 L726.81,151.16 L727.34,151.16 L727.86,151.16 L728.39,151.16 L728.92,151.16 L729.45,151.16 L729.98,151.15 L730.51,151.15 L731.04,151.15 L731.56,151.15 L732.09,151.15 L732.62,151.15 L733.15,151.15 L733.68,151.15 L734.21,151.15 L734.74,151.14 L735.26,151.14 L735.79,151.14 L736.32,151.14 L736.85,151.14 L737.38,151.14 L737.91,151.14 L738.44,151.14 L738.96,151.14 L739.49,151.14 L740.02,151.14 L740.55,151.13" fill="none" stroke="#ff0000" stroke-width="1.92" stroke-linecap="square" stroke-linejoin="round"/>
<path d="M582.50,207.06 L583.03,206.20 L583.56,205.34 L584.09,204.48 L584.61,203.62 L585.14,202.76 L585.67,201.90 L586.20,201.04 L586.73,200.18 L587.26,199.32 L587.79,198.47 L588.31,197.61 L588.84,196.75 L589.37,195.90 L589.90,195.05 L590.43,194.20 L590.96,193.35 L591.49,192.51 L592.01,191.67 L592.54,190.83 L593.07,190.00 L593.60,189.17 L594.13,188.34 L594.66,187.53 L595.19,186.71 L595.71,185.91 L596.24,185.11 L596.77,184.32 L597.30,183.54 L597.83,182.77 L598.36,182.01 L598.89,181.26 L599.42,180.52 L599.94,179.79 L600.47,179.07 L601.00,178.37 L601.53,177.67 L602.06,177.00 L602.59,176.33 L603.12,175.68 L603.64,175.04 L604.17,174.42 L604.70,173.81 L605.23,173.22 L605.76,172.64 L606.29,172.08 L606.82,171.53 L607.34,171.00 L607.87,170.48 L608.40,169.98 L608.93,169.49 L609.46,169.02 L609.99,168.57 L610.52,168.12 L611.04,167.70 L611.57,167.28 L612.10,166.89 L612.63,166.50 L613.16,166.13 L613.69,165.77 L614.22,165.43 L614.74,165.09 L615.27,164.77 L615.80,164.46 L616.33,164.17 L616.86,163.88 L617.39,163.61 L617.92,163.34 L618.44,163.09 L618.97,162.84 L619.50,162.61 L620.03,162.38 L620.56,162.16 L621.09,161.95 L621.62,161.75 L622.14,161.56 L622.67,161.37 L623.20,161.19 L623.73,161.02 L624.26,160.86 L624.79,160.70 L625.32,160.55 L625.84,160.40 L626.37,160.26 L626.90,160.13 L627.43,160.00 L627.96,159.87 L628.49,159.75 L629.02,159.64 L629.54,159.52 L630.07,159.42 L630.60,159.31 L631.13,159.22 L631.66,159.12 L632.19,159.03 L632.72,158.94 L633.25,158.86 L633.77,158.77 L634.30,158.69 L634.83,158.62 L635.36,158.55 L635.89,158.48 L636.42,158.41 L636.95,158.34 L637.47,158.28 L638.00,158.22 L638.53,158.16 L639.06,158.10 L639.59,158.05 L640.12,157.99 L640.65,157.94 L641.17,157.89 L641.70,157.85 L642.23,157.80 L642.76,157.76 L643.29,157.71 L643.82,157.67 L644.35,157.63 L644.87,157.59 L645.40,157.56 L645.93,157.52 L646.46,157.48 L646.99,157.45 L647.52,157.42 L648.05,157.39 L648.57,157.35 L649.10,157.33 L649.63,157.30 L650.16,157.27 L650.69,157.24 L651.22,157.21 L651.75,157.19 L652.27,157.16 L652.80,157.14 L653.33,157.12 L653.86,157.09 L654.39,157.07 L654.92,157.05 L655.45,157.03 L655.97,157.01 L656.50,156.99 L657.03,156.97 L657.56,156.95 L658.09,156.94 L658.62,156.92 L659.15,156.90 L659.67,156.89 L660.20,156.87 L660.73,156.86 L661.26,156.84 L661.79,156.83 L662.32,156.81 L662.85,156.80 L663.38,156.78 L663.90,156.77 L664.43,156.76 L664.96,156.75 L665.49,156.73 L666.02,156.72 L666.55,156.71 L667.08,156.70 L667.60,156.69 L668.13,156.68 L668.66,156.67 L669.19,156.66 L669.72,156.65 L670.25,156.64 L670.78,156.63 L671.30,156.62 L671.83,156.61 L672.36,156.60 L672.89,156.59 L673.42,156.59 L673.95,156.58 L674.48,156.57 L675.00,156.56 L675.53,156.55 L676.06,156.55 L676.59,156.54 L677.12,156.53 L677.65,156.53 L678.18,156.52 L678.70,156.51 L679.23,156.51 L679.76,156.50 L680.29,156.50 L680.82,156.49 L681.35,156.48 L681.88,156.48 L682.40,156.47 L682.93,156.47 L683.46,156.46 L683.99,156.46 L684.52,156.45 L685.05,156.45 L685.58,156.44 L686.10,156.44 L686.63,156.43 L687.16,156.43 L687.69,156.42 L688.22,156.42 L688.75,156.42 L689.28,156.41 L689.80,156.41 L690.33,156.40 L690.86,156.40 L691.39,156.40 L691.92,156.39 L692.45,156.39 L692.98,156.38 L693.51,156.38 L694.03,156.38 L694.56,156.37 L695.09,156.37 L695.62,156.37 L696.15,156.36 L696.68,156.36 L697.21,156.36 L697.73,156.36 L698.26,156.35 L698.79,156.35 L699.32,156.35 L699.85,156.34 L700.38,156.34 L700.91,156.34 L701.43,156.34 L701.96,156.33 L702.49,156.33 L703.02,156.33 L703.55,156.33 L704.08,156.32 L704.61,156.32 L705.13,156.32 L705.66,156.32 L706.19,156.31 L706.72,156.31 L707.25,156.31 L707.78,156.31 L708.31,156.31 L708.83,156.30 L709.36,156.30 L709.89,156.30 L710.42,156.30 L710.95,156.30 L711.48,156.29 L712.01,156.29 L712.53,156.29 L713.06,156.29 L713.59,156.29 L714.12,156.29 L714.65,156.28 L715.18,156.28 L715.71,156.28 L716.23,156.28 L716.76,156.28 L717.29,156.28 L717.82,156.27 L718.35,156.27 L718.88,156.27 L719.41,156.27 L719.93,156.27 L720.46,156.27 L720.99,156.27 L721.52,156.26 L722.05,156.26 L722.58,156.26 L723.11,156.26 L723.63,156.26 L724.16,156.26 L724.69,156.26 L725.22,156.26 L725.75,156.25 L726.28,156.25 L726.81,156.25 L727.34,156.25 L727.86,156.25 L728.39,156.25 L728.92,156.25 L729.45,156.25 L729.98,156.25 L730.51,156.25 L731.04,156.24 L731.56,156.24 L732.09,156.24 L732.62,156.24 L733.15,156.24 L733.68,156.24 L734.21,156.24 L734.74,156.24 L735.26,156.24 L735.79,156.24 L736.32,156.23 L736.85,156.23 L737.38,156.23 L737.91,156.23 L738.44,156.23 L738.96,156.23 L739.49,156.23 L740.02,156.23 L740.55,156.23" fill="none" stroke="#000000" stroke-width="1.92" stroke-linecap="square" stroke-linejoin="round"/>
<path d="M582.50,207.06 L583.02,206.08 L583.54,205.09 L584.07,204.11 L584.59,203.13 L585.11,202.15 L585.63,201.17 L586.15,200.19 L586.67,199.22 L587.20,198.24 L587.72,197.27 L588.24,196.31 L588.76,195.34 L589.28,194.38 L589.80,193.42 L590.33,192.47 L590.85,191.52 L591.37,190.57 L591.89,189.63 L592.41,188.70 L592.93,187.77 L593.46,186.84 L593.98,185.92 L594.50,185.01 L595.02,184.10 L595.54,183.20 L596.06,182.30 L596.59,181.41 L597.11,180.53 L597.63,179.65 L598.15,178.78 L598.67,177.92 L599.20,177.07 L599.72,176.22 L600.24,175.38 L600.76,174.55 L601.28,173.72 L601.80,172.91 L602.33,172.10 L602.85,171.30 L603.37,170.51 L603.89,169.72 L604.41,168.95 L604.93,168.18 L605.46,167.42 L605.98,166.67 L606.50,165.92 L607.02,165.19 L607.54,164.46 L608.06,163.75 L608.59,163.04 L609.11,162.34 L609.63,161.65 L610.15,160.96 L610.67,160.29 L611.19,159.62 L611.72,158.96 L612.24,158.31 L612.76,157.67 L613.28,157.04 L613.80,156.41 L614.33,155.80 L614.85,155.19 L615.37,154.59 L615.89,154.00 L616.41,153.41 L616.93,152.84 L617.46,152.27 L617.98,151.71 L618.50,151.16 L619.02,150.61 L619.54,150.08 L620.06,149.55 L620.59,149.02 L621.11,148.51 L621.63,148.00 L622.15,147.50 L622.67,147.01 L623.19,146.53 L623.72,146.05 L624.24,145.58 L624.76,145.11 L625.28,144.65 L625.80,144.20 L626.32,143.76 L626.85,143.32 L627.37,142.89 L627.89,142.47 L628.41,142.05 L628.93,141.63 L629.46,141.23 L629.98,140.83 L630.50,140.43 L631.02,140.05 L631.54,139.66 L632.06,139.29 L632.59,138.92 L633.11,138.55 L633.63,138.19 L634.15,137.84 L634.67,137.49 L635.19,137.14 L635.72,136.80 L636.24,136.47 L636.76,136.14 L637.28,135.82 L637.80,135.50 L638.32,135.18 L638.85,134.87 L639.37,134.57 L639.89,134.27 L640.41,133.97 L640.93,133.68 L641.45,133.39 L641.98,133.11 L642.50,132.83 L643.02,132.56 L643.54,132.29 L644.06,132.02 L644.59,131.76 L645.11,131.50 L645.63,131.25 L646.15,131.00 L646.67,130.75 L647.19,130.50 L647.72,130.26 L648.24,130.03 L648.76,129.80 L649.28,129.57 L649.80,129.34 L650.32,129.12 L650.85,128.90 L651.37,128.68 L651.89,128.47 L652.41,128.26 L652.93,128.05 L653.45,127.84 L653.98,127.64 L654.50,127.44 L655.02,127.25 L655.54,127.05 L656.06,126.86 L656.58,126.68 L657.11,126.49 L657.63,126.31 L658.15,126.13 L658.67,125.95 L659.19,125.78 L659.72,125.61 L660.24,125.44 L660.76,125.27 L661.28,125.10 L661.80,124.94 L662.32,124.78 L662.85,124.62 L663.37,124.47 L663.89,124.31 L664.41,124.16 L664.93,124.01 L665.45,123.86 L665.98,123.72 L666.50,123.57 L667.02,123.43 L667.54,123.29 L668.06,123.15 L668.58,123.01 L669.11,122.88 L669.63,122.75 L670.15,122.62 L670.67,122.49 L671.19,122.36 L671.71,122.23 L672.24,122.11 L672.76,121.99 L673.28,121.87 L673.80,121.75 L674.32,121.63 L674.85,121.51 L675.37,121.40 L675.89,121.28 L676.41,121.17 L676.93,121.06 L677.45,120.95 L677.98,120.84 L678.50,120.74 L679.02,120.63 L679.54,120.53 L680.06,120.43 L680.58,120.32 L681.11,120.22 L681.63,120.13 L682.15,120.03 L682.67,119.93 L683.19,119.84 L683.71,119.74 L684.24,119.65 L684.76,119.56 L685.28,119.47 L685.80,119.38 L686.32,119.29 L686.84,119.20 L687.37,119.12 L687.89,119.03 L688.41,118.95 L688.93,118.86 L689.45,118.78 L689.98,118.70 L690.50,118.62 L691.02,118.54 L691.54,118.46 L692.06,118.39 L692.58,118.31 L693.11,118.23 L693.63,118.16 L694.15,118.09 L694.67,118.01 L695.19,117.94 L695.71,117.87 L696.24,117.80 L696.76,117.73 L697.28,117.66 L697.80,117.59 L698.32,117.52 L698.84,117.46 L699.37,117.39 L699.89,117.33 L700.41,117.26 L700.93,117.20 L701.45,117.13 L701.97,117.07 L702.50,117.01 L703.02,116.95 L703.54,116.89 L704.06,116.83 L704.58,116.77 L705.11,116.71 L705.63,116.65 L706.15,116.60 L706.67,116.54 L707.19,116.49 L707.71,116.43 L708.24,116.38 L708.76,116.32 L709.28,116.27 L709.80,116.21 L710.32,116.16 L710.84,116.11 L711.37,116.06 L711.89,116.01 L712.41,115.96 L712.93,115.91 L713.45,115.86 L713.97,115.81 L714.50,115.76 L715.02,115.71 L715.54,115.67 L716.06,115.62 L716.58,115.57 L717.10,115.53 L717.63,115.48 L718.15,115.44 L718.67,115.39 L719.19,115.35 L719.71,115.31 L720.24,115.26 L720.76,115.22 L721.28,115.18 L721.80,115.14 L722.32,115.09 L722.84,115.05 L723.37,115.01 L723.89,114.97 L724.41,114.93 L724.93,114.89 L725.45,114.85 L725.97,114.82 L726.50,114.78 L727.02,114.74 L727.54,114.70 L728.06,114.67 L728.58,114.63 L729.10,114.59 L729.63,114.56 L730.15,114.52 L730.67,114.48 L731.19,114.45 L731.71,114.41 L732.23,114.38 L732.76,114.35 L733.28,114.31 L733.80,114.28 L734.32,114.25 L734.84,114.21 L735.37,114.18 L735.89,114.15 L736.41,114.12 L736.93,114.08 L737.45,114.05 L737.97,114.02 L738.50,113.99" fill="none" stroke="#0000ff" stroke-width="1.92" stroke-dasharray="1.92,3.17" stroke-linecap="butt" stroke-linejoin="round"/>
<path d="M582.50,207.06 L583.02,206.18 L583.54,205.29 L584.06,204.41 L584.58,203.53 L585.10,202.65 L585.62,201.77 L586.14,200.88 L586.67,200.00 L587.19,199.12 L587.71,198.24 L588.23,197.36 L588.75,196.48 L589.27,195.61 L589.79,194.73 L590.31,193.86 L590.83,192.99 L591.35,192.13 L591.87,191.27 L592.39,190.42 L592.91,189.57 L593.43,188.74 L593.95,187.91 L594.48,187.09 L595.00,186.28 L595.52,185.48 L596.04,184.70 L596.56,183.93 L597.08,183.17 L597.60,182.44 L598.12,181.72 L598.64,181.02 L599.16,180.34 L599.68,179.68 L600.20,179.04 L600.72,178.42 L601.24,177.83 L601.76,177.25 L602.29,176.70 L602.81,176.18 L603.33,175.68 L603.85,175.20 L604.37,174.74 L604.89,174.30 L605.41,173.89 L605.93,173.50 L606.45,173.13 L606.97,172.77 L607.49,172.44 L608.01,172.13 L608.53,171.83 L609.05,171.55 L609.57,171.29 L610.10,171.04 L610.62,170.81 L611.14,170.59 L611.66,170.38 L612.18,170.19 L612.70,170.00 L613.22,169.83 L613.74,169.67 L614.26,169.52 L614.78,169.38 L615.30,169.24 L615.82,169.12 L616.34,169.00 L616.86,168.89 L617.38,168.79 L617.91,168.69 L618.43,168.59 L618.95,168.51 L619.47,168.43 L619.99,168.35 L620.51,168.28 L621.03,168.21 L621.55,168.14 L622.07,168.08 L622.59,168.02 L623.11,167.97 L623.63,167.92 L624.15,167.87 L624.67,167.82 L625.19,167.78 L625.72,167.74 L626.24,167.70 L626.76,167.66 L627.28,167.63 L627.80,167.60 L628.32,167.56 L628.84,167.54 L629.36,167.51 L629.88,167.48 L630.40,167.45 L630.92,167.43 L631.44,167.41 L631.96,167.39 L632.48,167.37 L633.00,167.35 L633.53,167.33 L634.05,167.31 L634.57,167.29 L635.09,167.28 L635.61,167.26 L636.13,167.24 L636.65,167.23 L637.17,167.22 L637.69,167.20 L638.21,167.19 L638.73,167.18 L639.25,167.17 L639.77,167.16 L640.29,167.15 L640.81,167.14 L641.34,167.13 L641.86,167.12 L642.38,167.11 L642.90,167.10 L643.42,167.09 L643.94,167.09 L644.46,167.08 L644.98,167.07 L645.50,167.06 L646.02,167.06 L646.54,167.05 L647.06,167.05 L647.58,167.04 L648.10,167.03 L648.62,167.03 L649.15,167.02 L649.67,167.02 L650.19,167.01 L650.71,167.01 L651.23,167.01 L651.75,167.00 L652.27,167.00 L652.79,166.99 L653.31,166.99 L653.83,166.99 L654.35,166.98 L654.87,166.98 L655.39,166.98 L655.91,166.97 L656.43,166.97 L656.96,166.97 L657.48,166.96 L658.00,166.96 L658.52,166.96 L659.04,166.96 L659.56,166.95 L660.08,166.95 L660.60,166.95 L661.12,166.95 L661.64,166.94 L662.16,166.94 L662.68,166.94 L663.20,166.94 L663.72,166.94 L664.24,166.93 L664.77,166.93 L665.29,166.93 L665.81,166.93 L666.33,166.93 L666.85,166.92 L667.37,166.92 L667.89,166.92 L668.41,166.92 L668.93,166.92 L669.45,166.92 L669.97,166.92 L670.49,166.91 L671.01,166.91 L671.53,166.91 L672.05,166.91 L672.58,166.91 L673.10,166.91 L673.62,166.91 L674.14,166.91 L674.66,166.91 L675.18,166.90 L675.70,166.90 L676.22,166.90 L676.74,166.90 L677.26,166.90 L677.78,166.90 L678.30,166.90 L678.82,166.90 L679.34,166.90 L679.86,166.90 L680.39,166.90 L680.91,166.90 L681.43,166.89 L681.95,166.89 L682.47,166.89 L682.99,166.89 L683.51,166.89 L684.03,166.89 L684.55,166.89 L685.07,166.89 L685.59,166.89 L686.11,166.89 L686.63,166.89 L687.15,166.89 L687.67,166.89 L688.20,166.89 L688.72,166.89 L689.24,166.89 L689.76,166.88 L690.28,166.88 L690.80,166.88 L691.32,166.88 L691.84,166.88 L692.36,166.88 L692.88,166.88 L693.40,166.88 L693.92,166.88 L694.44,166.88 L694.96,166.88 L695.48,166.88 L696.01,166.88 L696.53,166.88 L697.05,166.88 L697.57,166.88 L698.09,166.88 L698.61,166.88 L699.13,166.88 L699.65,166.88 L700.17,166.88 L700.69,166.88 L701.21,166.88 L701.73,166.88 L702.25,166.88 L702.77,166.88 L703.29,166.88 L703.82,166.88 L704.34,166.88 L704.86,166.87 L705.38,166.87 L705.90,166.87 L706.42,166.87 L706.94,166.87 L707.46,166.87 L707.98,166.87 L708.50,166.87 L709.02,166.87 L709.54,166.87 L710.06,166.87 L710.58,166.87 L711.10,166.87 L711.63,166.87 L712.15,166.87 L712.67,166.87 L713.19,166.87 L713.71,166.87 L714.23,166.87 L714.75,166.87 L715.27,166.87 L715.79,166.87 L716.31,166.87 L716.83,166.87 L717.35,166.87 L717.87,166.87 L718.39,166.87 L718.91,166.87 L719.44,166.87 L719.96,166.87 L720.48,166.87 L721.00,166.87 L721.52,166.87 L722.04,166.87 L722.56,166.87 L723.08,166.87 L723.60,166.87 L724.12,166.87 L724.64,166.87 L725.16,166.87 L725.68,166.87 L726.20,166.87 L726.72,166.87 L727.25,166.87 L727.77,166.87 L728.29,166.87 L728.81,166.87 L729.33,166.87 L729.85,166.87 L730.37,166.87 L730.89,166.87 L731.41,166.87 L731.93,166.87 L732.45,166.87 L732.97,166.87 L733.49,166.87 L734.01,166.87 L734.53,166.87 L735.06,166.87 L735.58,166.87 L736.10,166.87 L736.62,166.87 L737.14,166.87 L737.66,166.87 L738.18,166.87" fill="none" stroke="#0000ff" stroke-width="1.92" stroke-dasharray="7.1,3.07" stroke-linecap="butt" stroke-linejoin="round"/>
<path d="M582.50,207.06 L582.90,206.39 L583.29,205.71 L583.69,205.04 L584.08,204.37 L584.48,203.70 L584.88,203.02 L585.27,202.35 L585.67,201.68 L586.07,201.01 L586.46,200.34 L586.86,199.66 L587.25,198.99 L587.65,198.32 L588.05,197.65 L588.44,196.98 L588.84,196.31 L589.23,195.64 L589.63,194.97 L590.03,194.31 L590.42,193.64 L590.82,192.97 L591.21,192.31 L591.61,191.65 L592.01,190.99 L592.40,190.33 L592.80,189.67 L593.20,189.02 L593.59,188.36 L593.99,187.71 L594.38,187.07 L594.78,186.42 L595.18,185.78 L595.57,185.14 L595.97,184.51 L596.36,183.88 L596.76,183.25 L597.16,182.63 L597.55,182.01 L597.95,181.40 L598.34,180.80 L598.74,180.19 L599.14,179.60 L599.53,179.01 L599.93,178.42 L600.33,177.84 L600.72,177.27 L601.12,176.71 L601.51,176.15 L601.91,175.60 L602.31,175.05 L602.70,174.52 L603.10,173.99 L603.49,173.47 L603.89,172.96 L604.29,172.45 L604.68,171.96 L605.08,171.47 L605.47,170.99 L605.87,170.52 L606.27,170.06 L606.66,169.60 L607.06,169.16 L607.46,168.72 L607.85,168.30 L608.25,167.88 L608.64,167.47 L609.04,167.07 L609.44,166.68 L609.83,166.29 L610.23,165.92 L610.62,165.55 L611.02,165.20 L611.42,164.85 L611.81,164.51 L612.21,164.18 L612.60,163.85 L613.00,163.54 L613.40,163.23 L613.79,162.93 L614.19,162.64 L614.59,162.36 L614.98,162.08 L615.38,161.82 L615.77,161.55 L616.17,161.30 L616.57,161.05 L616.96,160.81 L617.36,160.58 L617.75,160.35 L618.15,160.13 L618.55,159.92 L618.94,159.71 L619.34,159.51 L619.73,159.31 L620.13,159.12 L620.53,158.94 L620.92,158.76 L621.32,158.58 L621.72,158.41 L622.11,158.25 L622.51,158.09 L622.90,157.93 L623.30,157.78 L623.70,157.63 L624.09,157.49 L624.49,157.36 L624.88,157.22 L625.28,157.09 L625.68,156.97 L626.07,156.84 L626.47,156.72 L626.86,156.61 L627.26,156.50 L627.66,156.39 L628.05,156.28 L628.45,156.18 L628.85,156.08 L629.24,155.99 L629.64,155.89 L630.03,155.80 L630.43,155.71 L630.83,155.63 L631.22,155.54 L631.62,155.46 L632.01,155.38 L632.41,155.31 L632.81,155.23 L633.20,155.16 L633.60,155.09 L633.99,155.02 L634.39,154.95 L634.79,154.89 L635.18,154.83 L635.58,154.77 L635.98,154.71 L636.37,154.65 L636.77,154.59 L637.16,154.54 L637.56,154.49 L637.96,154.43 L638.35,154.38 L638.75,154.34 L639.14,154.29 L639.54,154.24 L639.94,154.20 L640.33,154.15 L640.73,154.11 L641.13,154.07 L641.52,154.03 L641.92,153.99 L642.31,153.95 L642.71,153.91 L643.11,153.88 L643.50,153.84 L643.90,153.81 L644.29,153.77 L644.69,153.74 L645.09,153.71 L645.48,153.68 L645.88,153.65 L646.27,153.62 L646.67,153.59 L647.07,153.56 L647.46,153.53 L647.86,153.51 L648.26,153.48 L648.65,153.45 L649.05,153.43 L649.44,153.40 L649.84,153.38 L650.24,153.36 L650.63,153.33 L651.03,153.31 L651.42,153.29 L651.82,153.27 L652.22,153.25 L652.61,153.23 L653.01,153.21 L653.40,153.19 L653.80,153.17 L654.20,153.15 L654.59,153.14 L654.99,153.12 L655.39,153.10 L655.78,153.08 L656.18,153.07 L656.57,153.05 L656.97,153.04 L657.37,153.02 L657.76,153.01 L658.16,152.99 L658.55,152.98 L658.95,152.96 L659.35,152.95 L659.74,152.94 L660.14,152.92 L660.53,152.92 L660.93,153.04 L661.33,153.21 L661.72,153.40 L662.12,153.61 L662.52,153.84 L662.91,154.07 L663.31,154.32 L663.70,154.57 L664.10,154.82 L664.50,155.08 L664.89,155.35 L665.29,155.62 L665.68,155.89 L666.08,156.16 L666.48,156.43 L666.87,156.71 L667.27,156.98 L667.66,157.25 L668.06,157.53 L668.46,157.80 L668.85,158.08 L669.25,158.35 L669.65,158.62 L670.04,158.89 L670.44,159.16 L670.83,159.42 L671.23,159.69 L671.63,159.95 L672.02,160.21 L672.42,160.46 L672.81,160.72 L673.21,160.97 L673.61,161.22 L674.00,161.46 L674.40,161.71 L674.79,161.94 L675.19,162.18 L675.59,162.42 L675.98,162.65 L676.38,162.87 L676.78,163.10 L677.17,163.32 L677.57,163.54 L677.96,163.75 L678.36,163.96 L678.76,164.17 L679.15,164.37 L679.55,164.58 L679.94,164.77 L680.34,164.97 L680.74,165.16 L681.13,165.35 L681.53,165.53 L681.92,165.71 L682.32,165.89 L682.72,166.07 L683.11,166.24 L683.51,166.41 L683.91,166.57 L684.30,166.74 L684.70,166.90 L685.09,167.05 L685.49,167.20 L685.89,167.35 L686.28,167.50 L686.68,167.65 L687.07,167.79 L687.47,167.93 L687.87,168.06 L688.26,168.19 L688.66,168.32 L689.06,168.45 L689.45,168.58 L689.85,168.70 L690.24,168.82 L690.64,168.93 L691.04,169.05 L691.43,169.16 L691.83,169.27 L692.22,169.37 L692.62,169.48 L693.02,169.58 L693.41,169.68 L693.81,169.78 L694.20,169.87 L694.60,169.97 L695.00,170.06 L695.39,170.15 L695.79,170.23 L696.19,170.32 L696.58,170.40 L696.98,170.48 L697.37,170.56 L697.77,170.64 L698.17,170.71 L698.56,170.78 L698.96,170.86 L699.35,170.92 L699.75,170.99 L700.15,171.06 L700.54,171.12 L700.94,171.19 L701.33,171.25 L701.73,171.31 L702.13,171.37 L702.52,171.42 L702.92,171.48 L703.32,171.53 L703.71,171.58 L704.11,171.64 L704.50,171.69 L704.90,171.73 L705.30,171.78 L705.69,171.83 L706.09,171.87 L706.48,171.92 L706.88,171.96 L707.28,172.00 L707.67,172.04 L708.07,172.08 L708.46,172.12 L708.86,172.16 L709.26,172.19 L709.65,172.23 L710.05,172.26 L710.45,172.29 L710.84,172.33 L711.24,172.36 L711.63,172.39 L712.03,172.42 L712.43,172.45 L712.82,172.48 L713.22,172.50 L713.61,172.53 L714.01,172.56 L714.41,172.58 L714.80,172.61 L715.20,172.63 L715.59,172.65 L715.99,172.67 L716.39,172.70 L716.78,172.72 L717.18,172.74 L717.58,172.76 L717.97,172.78 L718.37,172.80 L718.76,172.82 L719.16,172.83 L719.56,172.85 L719.95,172.87 L720.35,172.88 L720.74,172.90 L721.14,172.91 L721.54,172.93 L721.93,172.94 L722.33,172.96 L722.72,172.97 L723.12,172.98 L723.52,173.00 L723.91,173.01 L724.31,173.02 L724.71,173.03 L725.10,173.04 L725.50,173.06 L725.89,173.07 L726.29,173.08 L726.69,173.09 L727.08,173.10 L727.48,173.11 L727.87,173.12 L728.27,173.12 L728.67,173.13 L729.06,173.14 L729.46,173.15 L729.85,173.16 L730.25,173.16 L730.65,173.17 L731.04,173.18 L731.44,173.19 L731.84,173.19 L732.23,173.20 L732.63,173.21 L733.02,173.21 L733.42,173.22 L733.82,173.22 L734.21,173.23 L734.61,173.23 L735.00,173.24 L735.40,173.24 L735.80,173.25 L736.19,173.25 L736.59,173.26 L736.98,173.26 L737.38,173.27 L737.78,173.27 L738.17,173.27 L738.57,173.28 L738.97,173.28 L739.36,173.29 L739.76,173.29 L740.15,173.29 L740.55,173.30" fill="none" stroke="#0000ff" stroke-width="1.92" stroke-dasharray="12.29,3.07,1.92,3.07" stroke-linecap="butt" stroke-linejoin="round"/>
<path d="M582.50,207.06 L582.99,206.25 L583.47,205.45 L583.96,204.65 L584.44,203.85 L584.93,203.05 L585.41,202.25 L585.90,201.46 L586.39,200.67 L586.87,199.88 L587.36,199.10 L587.84,198.31 L588.33,197.53 L588.82,196.75 L589.30,195.98 L589.79,195.21 L590.27,194.43 L590.76,193.67 L591.24,192.90 L591.73,192.14 L592.22,191.37 L592.70,190.61 L593.19,189.86 L593.67,189.10 L594.16,188.35 L594.64,187.60 L595.13,186.85 L595.62,186.11 L596.10,185.36 L596.59,184.62 L597.07,183.89 L597.56,183.15 L598.04,182.42 L598.53,181.68 L599.02,180.95 L599.50,180.23 L599.99,179.50 L600.47,178.78 L600.96,178.06 L601.45,177.34 L601.93,176.62 L602.42,175.91 L602.90,175.20 L603.39,174.49 L603.87,173.78 L604.36,173.08 L604.85,172.37 L605.33,171.67 L605.82,170.97 L606.30,170.28 L606.79,169.58 L607.27,168.89 L607.76,168.20 L608.25,167.51 L608.73,166.83 L609.22,166.14 L609.70,165.46 L610.19,164.78 L610.68,164.11 L611.16,163.43 L611.65,162.76 L612.13,162.09 L612.62,161.42 L613.10,160.75 L613.59,160.09 L614.08,159.42 L614.56,158.76 L615.05,158.10 L615.53,157.45 L616.02,156.79 L616.50,156.14 L616.99,155.49 L617.48,154.84 L617.96,154.19 L618.45,153.55 L618.93,152.91 L619.42,152.27 L619.90,151.63 L620.39,150.99 L620.88,150.36 L621.36,149.72 L621.85,149.09 L622.33,148.46 L622.82,147.84 L623.31,147.21 L623.79,146.59 L624.28,145.97 L624.76,145.35 L625.25,144.73 L625.73,144.11 L626.22,143.50 L626.71,142.89 L627.19,142.28 L627.68,141.67 L628.16,141.06 L628.65,140.46 L629.13,139.86 L629.62,139.26 L630.11,138.66 L630.59,138.06 L631.08,137.47 L631.56,136.87 L632.05,136.28 L632.54,135.69 L633.02,135.10 L633.51,134.52 L633.99,133.93 L634.48,133.35 L634.96,132.77 L635.45,132.19 L635.94,131.61 L636.42,131.04 L636.91,130.46 L637.39,129.89 L637.88,129.32 L638.36,128.75 L638.85,128.18 L639.34,127.62 L639.82,127.06 L640.31,126.49 L640.79,125.93 L641.28,125.37 L641.77,124.82 L642.25,124.26 L642.74,123.71 L643.22,123.16 L643.71,122.61 L644.19,122.06 L644.68,121.51 L645.17,120.97 L645.65,120.42 L646.14,119.88 L646.62,119.34 L647.11,118.80 L647.59,118.26 L648.08,117.73 L648.57,117.19 L649.05,116.66 L649.54,116.13 L650.02,115.60 L650.51,115.07 L650.99,114.55 L651.48,114.02 L651.97,113.50 L652.45,112.98 L652.94,112.45 L653.42,111.94 L653.91,111.42 L654.40,110.90 L654.88,110.39 L655.37,109.88 L655.85,109.36 L656.34,108.85 L656.82,108.35 L657.31,107.84 L657.80,107.33 L658.28,106.83 L658.77,106.33 L659.25,105.83 L659.74,105.33 L660.22,104.83 L660.71,104.33 L661.20,103.84 L661.68,103.34 L662.17,102.85 L662.65,102.36 L663.14,101.87 L663.63,101.38 L664.11,100.89 L664.60,100.41 L665.08,99.92 L665.57,99.44 L666.05,98.96 L666.54,98.48 L667.03,98.00 L667.51,97.52 L668.00,97.04 L668.48,96.57 L668.97,96.10 L669.45,95.62 L669.94,95.15 L670.43,94.68 L670.91,94.21 L671.40,93.75 L671.88,93.28 L672.37,92.81 L672.85,92.35 L673.34,91.89 L673.83,91.43 L674.31,90.97 L674.80,90.51 L675.28,90.05 L675.77,89.59 L676.26,89.14 L676.74,88.69 L677.23,88.23 L677.71,87.78 L678.20,87.33 L678.68,86.88 L679.17,86.43 L679.66,85.99 L680.14,85.54 L680.63,85.10 L681.11,84.65 L681.60,84.21 L682.08,83.77 L682.57,83.33 L683.06,82.89 L683.54,82.45 L684.03,82.02 L684.51,81.58 L685.00,81.14 L685.49,80.71 L685.97,80.28 L686.46,79.85 L686.94,79.42 L687.43,78.99 L687.91,78.56 L688.40,78.13 L688.89,77.71 L689.37,77.28 L689.86,76.86 L690.34,76.43 L690.83,76.01 L691.31,75.59 L691.80,75.17 L692.29,74.75 L692.77,74.33 L693.26,73.92 L693.74,73.50 L694.23,73.08 L694.71,72.67 L695.20,72.26 L695.69,71.84 L696.17,71.43 L696.66,71.02 L697.14,70.61 L697.63,70.20 L698.12,69.79 L698.60,69.39 L699.09,68.98 L699.57,68.58 L700.06,68.17 L700.54,67.77 L701.03,67.37 L701.52,66.96 L702.00,66.56 L702.49,66.16 L702.97,65.76 L703.46,65.37 L703.94,64.97 L704.43,64.57 L704.92,64.17 L705.40,63.78 L705.89,63.39 L706.37,62.99 L706.86,62.60 L707.35,62.21 L707.83,61.82 L708.32,61.43 L708.80,61.04 L709.29,60.65 L709.77,60.26 L710.26,59.87 L710.75,59.48 L711.23,59.10 L711.72,58.71 L712.20,58.33 L712.69,57.94 L713.17,57.56 L713.66,57.18 L714.15,56.80 L714.63,56.42 L715.12,56.03 L715.60,55.66 L716.09,55.28 L716.58,54.90 L717.06,54.52 L717.55,54.14 L718.03,53.77 L718.52,53.39 L719.00,53.01 L719.49,52.64 L719.98,52.27 L720.46,51.89 L720.95,51.52 L721.43,51.15 L721.92,50.77 L722.40,50.40 L722.89,50.03 L723.38,49.66 L723.86,49.29 L724.35,48.92 L724.83,48.56 L725.32,48.19 L725.80,47.82 L726.29,47.45 L726.78,47.09 L727.26,46.72 L727.75,46.36" fill="none" stroke="#00bfbf" stroke-width="1.92" stroke-linecap="square" stroke-linejoin="round"/>
<path d="M582.50,207.06 L583.01,206.21 L583.52,205.36 L584.03,204.51 L584.54,203.66 L585.05,202.82 L585.56,201.98 L586.07,201.14 L586.58,200.30 L587.09,199.46 L587.60,198.63 L588.11,197.80 L588.62,196.97 L589.13,196.15 L589.64,195.33 L590.15,194.50 L590.66,193.69 L591.17,192.87 L591.68,192.05 L592.19,191.24 L592.70,190.43 L593.21,189.63 L593.72,188.82 L594.23,188.02 L594.74,187.22 L595.25,186.42 L595.76,185.62 L596.27,184.83 L596.78,184.03 L597.29,183.24 L597.80,182.46 L598.31,181.67 L598.82,180.89 L599.33,180.11 L599.84,179.33 L600.35,178.55 L600.86,177.77 L601.37,177.00 L601.88,176.23 L602.39,175.46 L602.90,174.69 L603.41,173.93 L603.92,173.17 L604.43,172.41 L604.94,171.65 L605.45,170.89 L605.96,170.14 L606.47,169.39 L606.98,168.64 L607.49,167.89 L608.00,167.14 L608.51,166.40 L609.02,165.66 L609.54,164.92 L610.05,164.18 L610.56,163.44 L611.07,162.71 L611.58,161.98 L612.09,161.25 L612.60,160.52 L613.11,159.80 L613.62,159.07 L614.13,158.35 L614.64,157.63 L615.15,156.91 L615.66,156.20 L616.17,155.48 L616.68,154.77 L617.19,154.06 L617.70,153.35 L618.21,152.64 L618.72,151.94 L619.23,151.24 L619.74,150.54 L620.25,149.84 L620.76,149.14 L621.27,148.45 L621.78,147.75 L622.29,147.06 L622.80,146.37 L623.31,145.68 L623.82,145.00 L624.33,144.32 L624.84,143.63 L625.35,142.95 L625.86,142.27 L626.37,141.60 L626.88,140.92 L627.39,140.25 L627.90,139.58 L628.41,138.91 L628.92,138.24 L629.43,137.58 L629.94,136.91 L630.45,136.25 L630.96,135.59 L631.47,134.93 L631.98,134.27 L632.49,133.62 L633.00,132.96 L633.51,132.31 L634.02,131.66 L634.53,131.01 L635.04,130.37 L635.55,129.72 L636.06,129.08 L636.57,128.44 L637.08,127.80 L637.59,127.16 L638.10,126.52 L638.61,125.89 L639.12,125.25 L639.63,124.62 L640.14,123.99 L640.65,123.36 L641.16,122.74 L641.67,122.11 L642.18,121.49 L642.69,120.86 L643.20,120.24 L643.71,119.63 L644.22,119.01 L644.73,118.39 L645.24,117.78 L645.75,117.17 L646.26,116.56 L646.77,115.95 L647.28,115.34 L647.79,114.73 L648.30,114.13 L648.81,113.52 L649.32,112.92 L649.83,112.32 L650.34,111.72 L650.85,111.13 L651.36,110.53 L651.87,109.94 L652.38,109.35 L652.89,108.75 L653.40,108.16 L653.91,107.58 L654.42,106.99 L654.93,106.40 L655.44,105.82 L655.95,105.24 L656.46,104.66 L656.97,104.08 L657.48,103.50 L657.99,102.92 L658.50,102.35 L659.01,101.77 L659.52,101.20 L660.03,100.63 L660.54,100.06 L661.05,99.49 L661.56,98.93 L662.07,98.36 L662.58,97.80 L663.09,97.23 L663.61,96.67 L664.12,96.11 L664.63,95.55 L665.14,95.00 L665.65,94.44 L666.16,93.89 L666.67,93.33 L667.18,92.78 L667.69,92.23 L668.20,91.68 L668.71,91.13 L669.22,90.59 L669.73,90.04 L670.24,89.50 L670.75,88.95 L671.26,88.41 L671.77,87.87 L672.28,87.33 L672.79,86.79 L673.30,86.26 L673.81,85.72 L674.32,85.18 L674.83,84.65 L675.34,84.12 L675.85,83.59 L676.36,83.06 L676.87,82.53 L677.38,82.00 L677.89,81.48 L678.40,80.95 L678.91,80.43 L679.42,79.91 L679.93,79.38 L680.44,78.86 L680.95,78.34 L681.46,77.83 L681.97,77.31 L682.48,76.79 L682.99,76.28 L683.50,75.77 L684.01,75.25 L684.52,74.74 L685.03,74.23 L685.54,73.72 L686.05,73.21 L686.56,72.71 L687.07,72.20 L687.58,71.70 L688.09,71.19 L688.60,70.69 L689.11,70.19 L689.62,69.69 L690.13,69.19 L690.64,68.69 L691.15,68.19 L691.66,67.69 L692.17,67.20 L692.68,66.70 L693.19,66.21 L693.70,65.72 L694.21,65.22 L694.72,64.73 L695.23,64.24 L695.74,63.75 L696.25,63.27 L696.76,62.78 L697.27,62.29 L697.78,61.81 L698.29,61.32 L698.80,60.84 L699.31,60.36 L699.82,59.88 L700.33,59.39 L700.84,58.91 L701.35,58.44 L701.86,57.96 L702.37,57.48 L702.88,57.00 L703.39,56.53 L703.90,56.05 L704.41,55.58 L704.92,55.11 L705.43,54.64 L705.94,54.16 L706.45,53.69 L706.96,53.22 L707.47,52.75 L707.98,52.29 L708.49,51.82 L709.00,51.35 L709.51,50.89 L710.02,50.42 L710.53,49.96 L711.04,49.50 L711.55,49.03 L712.06,48.57 L712.57,48.11 L713.08,47.65 L713.59,47.19 L714.10,46.73 L714.61,46.27 L715.12,45.81 L715.63,45.36 L716.14,44.90 L716.65,44.45 L717.16,43.99 L717.68,43.54 L718.19,43.08 L718.70,42.63 L719.21,42.18 L719.72,41.73 L720.23,41.28 L720.74,40.83 L721.25,40.38 L721.76,39.93 L722.27,39.48 L722.78,39.03 L723.29,38.59 L723.80,38.14 L724.31,37.69 L724.82,37.25 L725.33,36.81 L725.84,36.36 L726.35,35.92 L726.86,35.47 L727.37,35.03 L727.88,34.59 L728.39,34.15 L728.90,33.71 L729.41,33.27 L729.92,32.83 L730.43,32.39 L730.94,31.95 L731.45,31.51 L731.96,31.08 L732.47,30.64 L732.98,30.20 L733.49,29.77 L734.00,29.33 L734.51,28.90 L735.02,28.46" fill="none" stroke="#bf00bf" stroke-width="1.92" stroke-linecap="square" stroke-linejoin="round"/>
</g>
<rect x="47.30" y="20.00" width="173.70" height="195.90" fill="none" stroke="#000" stroke-width="1.30" stroke-linejoin="miter"/>
<rect x="311.06" y="20.00" width="173.70" height="195.90" fill="none" stroke="#000" stroke-width="1.30" stroke-linejoin="miter"/>
<rect x="574.70" y="20.00" width="173.70" height="195.90" fill="none" stroke="#000" stroke-width="1.30" stroke-linejoin="miter"/>
<g stroke="#000" stroke-width="1.15">
<line x1="55.10" y1="215.90" x2="55.10" y2="220.38"/>
<line x1="134.12" y1="215.90" x2="134.12" y2="220.38"/>
<line x1="213.15" y1="215.90" x2="213.15" y2="220.38"/>
<line x1="318.86" y1="215.90" x2="318.86" y2="220.38"/>
<line x1="397.88" y1="215.90" x2="397.88" y2="220.38"/>
<line x1="476.91" y1="215.90" x2="476.91" y2="220.38"/>
<line x1="582.50" y1="215.90" x2="582.50" y2="220.38"/>
<line x1="661.52" y1="215.90" x2="661.52" y2="220.38"/>
<line x1="740.55" y1="215.90" x2="740.55" y2="220.38"/>
<line x1="42.82" y1="207.06" x2="47.30" y2="207.06"/>
<line x1="42.82" y1="166.22" x2="47.30" y2="166.22"/>
<line x1="42.82" y1="125.38" x2="47.30" y2="125.38"/>
<line x1="42.82" y1="84.54" x2="47.30" y2="84.54"/>
<line x1="42.82" y1="43.70" x2="47.30" y2="43.70"/>
<line x1="306.58" y1="28.60" x2="311.06" y2="28.60"/>
<line x1="306.58" y1="67.68" x2="311.06" y2="67.68"/>
<line x1="306.58" y1="106.75" x2="311.06" y2="106.75"/>
<line x1="306.58" y1="145.83" x2="311.06" y2="145.83"/>
<line x1="306.58" y1="184.90" x2="311.06" y2="184.90"/>
<line x1="570.22" y1="207.06" x2="574.70" y2="207.06"/>
<line x1="570.22" y1="158.84" x2="574.70" y2="158.84"/>
<line x1="570.22" y1="110.62" x2="574.70" y2="110.62"/>
<line x1="570.22" y1="62.40" x2="574.70" y2="62.40"/>
</g>
<g class="txt" font-family="Liberation Sans, sans-serif" fill="#000" stroke="#000" stroke-width="0.25">
<text x="55.10" y="234.55" font-size="14.00" text-anchor="middle" textLength="8.14" lengthAdjust="spacingAndGlyphs">0</text>
<text x="134.12" y="234.55" font-size="14.00" text-anchor="middle" textLength="32.58" lengthAdjust="spacingAndGlyphs">5000</text>
<text x="213.15" y="234.55" font-size="14.00" text-anchor="middle" textLength="40.72" lengthAdjust="spacingAndGlyphs">10000</text>
<text x="318.86" y="234.55" font-size="14.00" text-anchor="middle" textLength="8.14" lengthAdjust="spacingAndGlyphs">0</text>
<text x="397.88" y="234.55" font-size="14.00" text-anchor="middle" textLength="32.58" lengthAdjust="spacingAndGlyphs">5000</text>
<text x="476.91" y="234.55" font-size="14.00" text-anchor="middle" textLength="40.72" lengthAdjust="spacingAndGlyphs">10000</text>
<text x="582.50" y="234.55" font-size="14.00" text-anchor="middle" textLength="8.14" lengthAdjust="spacingAndGlyphs">0</text>
<text x="661.52" y="234.55" font-size="14.00" text-anchor="middle" textLength="32.58" lengthAdjust="spacingAndGlyphs">5000</text>
<text x="740.55" y="234.55" font-size="14.00" text-anchor="middle" textLength="40.72" lengthAdjust="spacingAndGlyphs">10000</text>
<text x="38.64" y="212.06" font-size="14.00" text-anchor="end" textLength="20.36" lengthAdjust="spacingAndGlyphs">0.0</text>
<text x="38.64" y="171.22" font-size="14.00" text-anchor="end" textLength="20.36" lengthAdjust="spacingAndGlyphs">0.5</text>
<text x="38.64" y="130.38" font-size="14.00" text-anchor="end" textLength="20.36" lengthAdjust="spacingAndGlyphs">1.0</text>
<text x="38.64" y="89.54" font-size="14.00" text-anchor="end" textLength="20.36" lengthAdjust="spacingAndGlyphs">1.5</text>
<text x="38.64" y="48.70" font-size="14.00" text-anchor="end" textLength="20.36" lengthAdjust="spacingAndGlyphs">2.0</text>
<text x="301.70" y="33.60" font-size="14.00" text-anchor="end" textLength="36.64" lengthAdjust="spacingAndGlyphs">1.000</text>
<text x="301.70" y="72.68" font-size="14.00" text-anchor="end" textLength="36.64" lengthAdjust="spacingAndGlyphs">0.995</text>
<text x="301.70" y="111.75" font-size="14.00" text-anchor="end" textLength="36.64" lengthAdjust="spacingAndGlyphs">0.990</text>
<text x="301.70" y="150.83" font-size="14.00" text-anchor="end" textLength="36.64" lengthAdjust="spacingAndGlyphs">0.985</text>
<text x="301.70" y="189.90" font-size="14.00" text-anchor="end" textLength="36.64" lengthAdjust="spacingAndGlyphs">0.980</text>
<text x="565.54" y="212.06" font-size="14.00" text-anchor="end" textLength="36.64" lengthAdjust="spacingAndGlyphs">0.000</text>
<text x="565.54" y="163.84" font-size="14.00" text-anchor="end" textLength="36.64" lengthAdjust="spacingAndGlyphs">0.002</text>
<text x="565.54" y="115.62" font-size="14.00" text-anchor="end" textLength="36.64" lengthAdjust="spacingAndGlyphs">0.004</text>
<text x="565.54" y="67.40" font-size="14.00" text-anchor="end" textLength="36.64" lengthAdjust="spacingAndGlyphs">0.006</text>
<text x="134.15" y="252.50" font-size="14.00" text-anchor="middle" textLength="75.59" lengthAdjust="spacingAndGlyphs">Time (days)</text>
<text x="397.91" y="252.50" font-size="14.00" text-anchor="middle" textLength="75.59" lengthAdjust="spacingAndGlyphs">Time (days)</text>
<text x="661.55" y="252.50" font-size="14.00" text-anchor="middle" textLength="75.59" lengthAdjust="spacingAndGlyphs">Time (days)</text>
<text x="11.00" y="117.75" font-size="14.00" text-anchor="middle" textLength="194.44" lengthAdjust="spacingAndGlyphs" transform="rotate(-90 11.00 117.75)">Normalized Atmospheric Mass</text>
<text x="258.00" y="118.00" font-size="14.00" text-anchor="middle" textLength="158.43" lengthAdjust="spacingAndGlyphs" transform="rotate(-90 258.00 118.00)">Normalized Total Energy</text>
<text x="521.00" y="118.65" font-size="14.00" text-anchor="middle" textLength="127.98" lengthAdjust="spacingAndGlyphs" transform="rotate(-90 521.00 118.65)">Superrotation Index</text>
<text x="47.10" y="16.30" font-size="14.00" text-anchor="start" textLength="61.90" lengthAdjust="spacingAndGlyphs">1e−11+1</text>
</g>
<rect x="395.80" y="24.60" width="84.40" height="107.90" rx="2.5" ry="2.5" fill="#ffffff" fill-opacity="0.8" stroke="#cccccc" stroke-width="1.0"/>
<line x1="399.4" y1="31.60" x2="417.5" y2="31.60" stroke="#0000ff" stroke-width="1.92" stroke-linecap="square"/>
<line x1="399.4" y1="44.80" x2="417.5" y2="44.80" stroke="#ff0000" stroke-width="1.92" stroke-linecap="square"/>
<line x1="399.4" y1="58.00" x2="417.5" y2="58.00" stroke="#000000" stroke-width="1.92" stroke-linecap="square"/>
<line x1="399.4" y1="71.20" x2="417.5" y2="71.20" stroke="#0000ff" stroke-width="1.92" stroke-dasharray="1.92,3.17" stroke-linecap="butt"/>
<line x1="399.4" y1="84.40" x2="417.5" y2="84.40" stroke="#0000ff" stroke-width="1.92" stroke-dasharray="7.1,3.07" stroke-linecap="butt"/>
<line x1="399.4" y1="97.60" x2="417.5" y2="97.60" stroke="#0000ff" stroke-width="1.92" stroke-dasharray="12.29,3.07,1.92,3.07" stroke-linecap="butt"/>
<line x1="399.4" y1="110.80" x2="417.5" y2="110.80" stroke="#00bfbf" stroke-width="1.92" stroke-linecap="square"/>
<line x1="399.4" y1="124.00" x2="417.5" y2="124.00" stroke="#bf00bf" stroke-width="1.92" stroke-linecap="square"/>
<g class="txt" font-family="Liberation Sans, sans-serif" fill="#000" stroke="#000" stroke-width="0.25">
<text x="424.60" y="34.70" font-size="9.50" text-anchor="start" textLength="20.34" lengthAdjust="spacingAndGlyphs">NHD</text>
<text x="424.60" y="47.90" font-size="9.50" text-anchor="start" textLength="20.69" lengthAdjust="spacingAndGlyphs">QHD</text>
<text x="424.60" y="61.10" font-size="9.50" text-anchor="start" textLength="18.11" lengthAdjust="spacingAndGlyphs">HSS</text>
<text x="424.60" y="74.30" font-size="9.50" text-anchor="start" textLength="41.65" lengthAdjust="spacingAndGlyphs">NHD, D/2</text>
<text x="424.60" y="87.50" font-size="9.50" text-anchor="start" textLength="47.36" lengthAdjust="spacingAndGlyphs">NHD, 3D/2</text>
<text x="424.60" y="100.70" font-size="9.50" text-anchor="start" textLength="51.49" lengthAdjust="spacingAndGlyphs">NHD, rm sp</text>
<text x="424.60" y="113.90" font-size="9.50" text-anchor="start" textLength="37.42" lengthAdjust="spacingAndGlyphs">NHD, g5</text>
<text x="424.60" y="127.10" font-size="9.50" text-anchor="start" textLength="37.77" lengthAdjust="spacingAndGlyphs">QHD, g5</text>
</g>
</svg>
</body></html>
